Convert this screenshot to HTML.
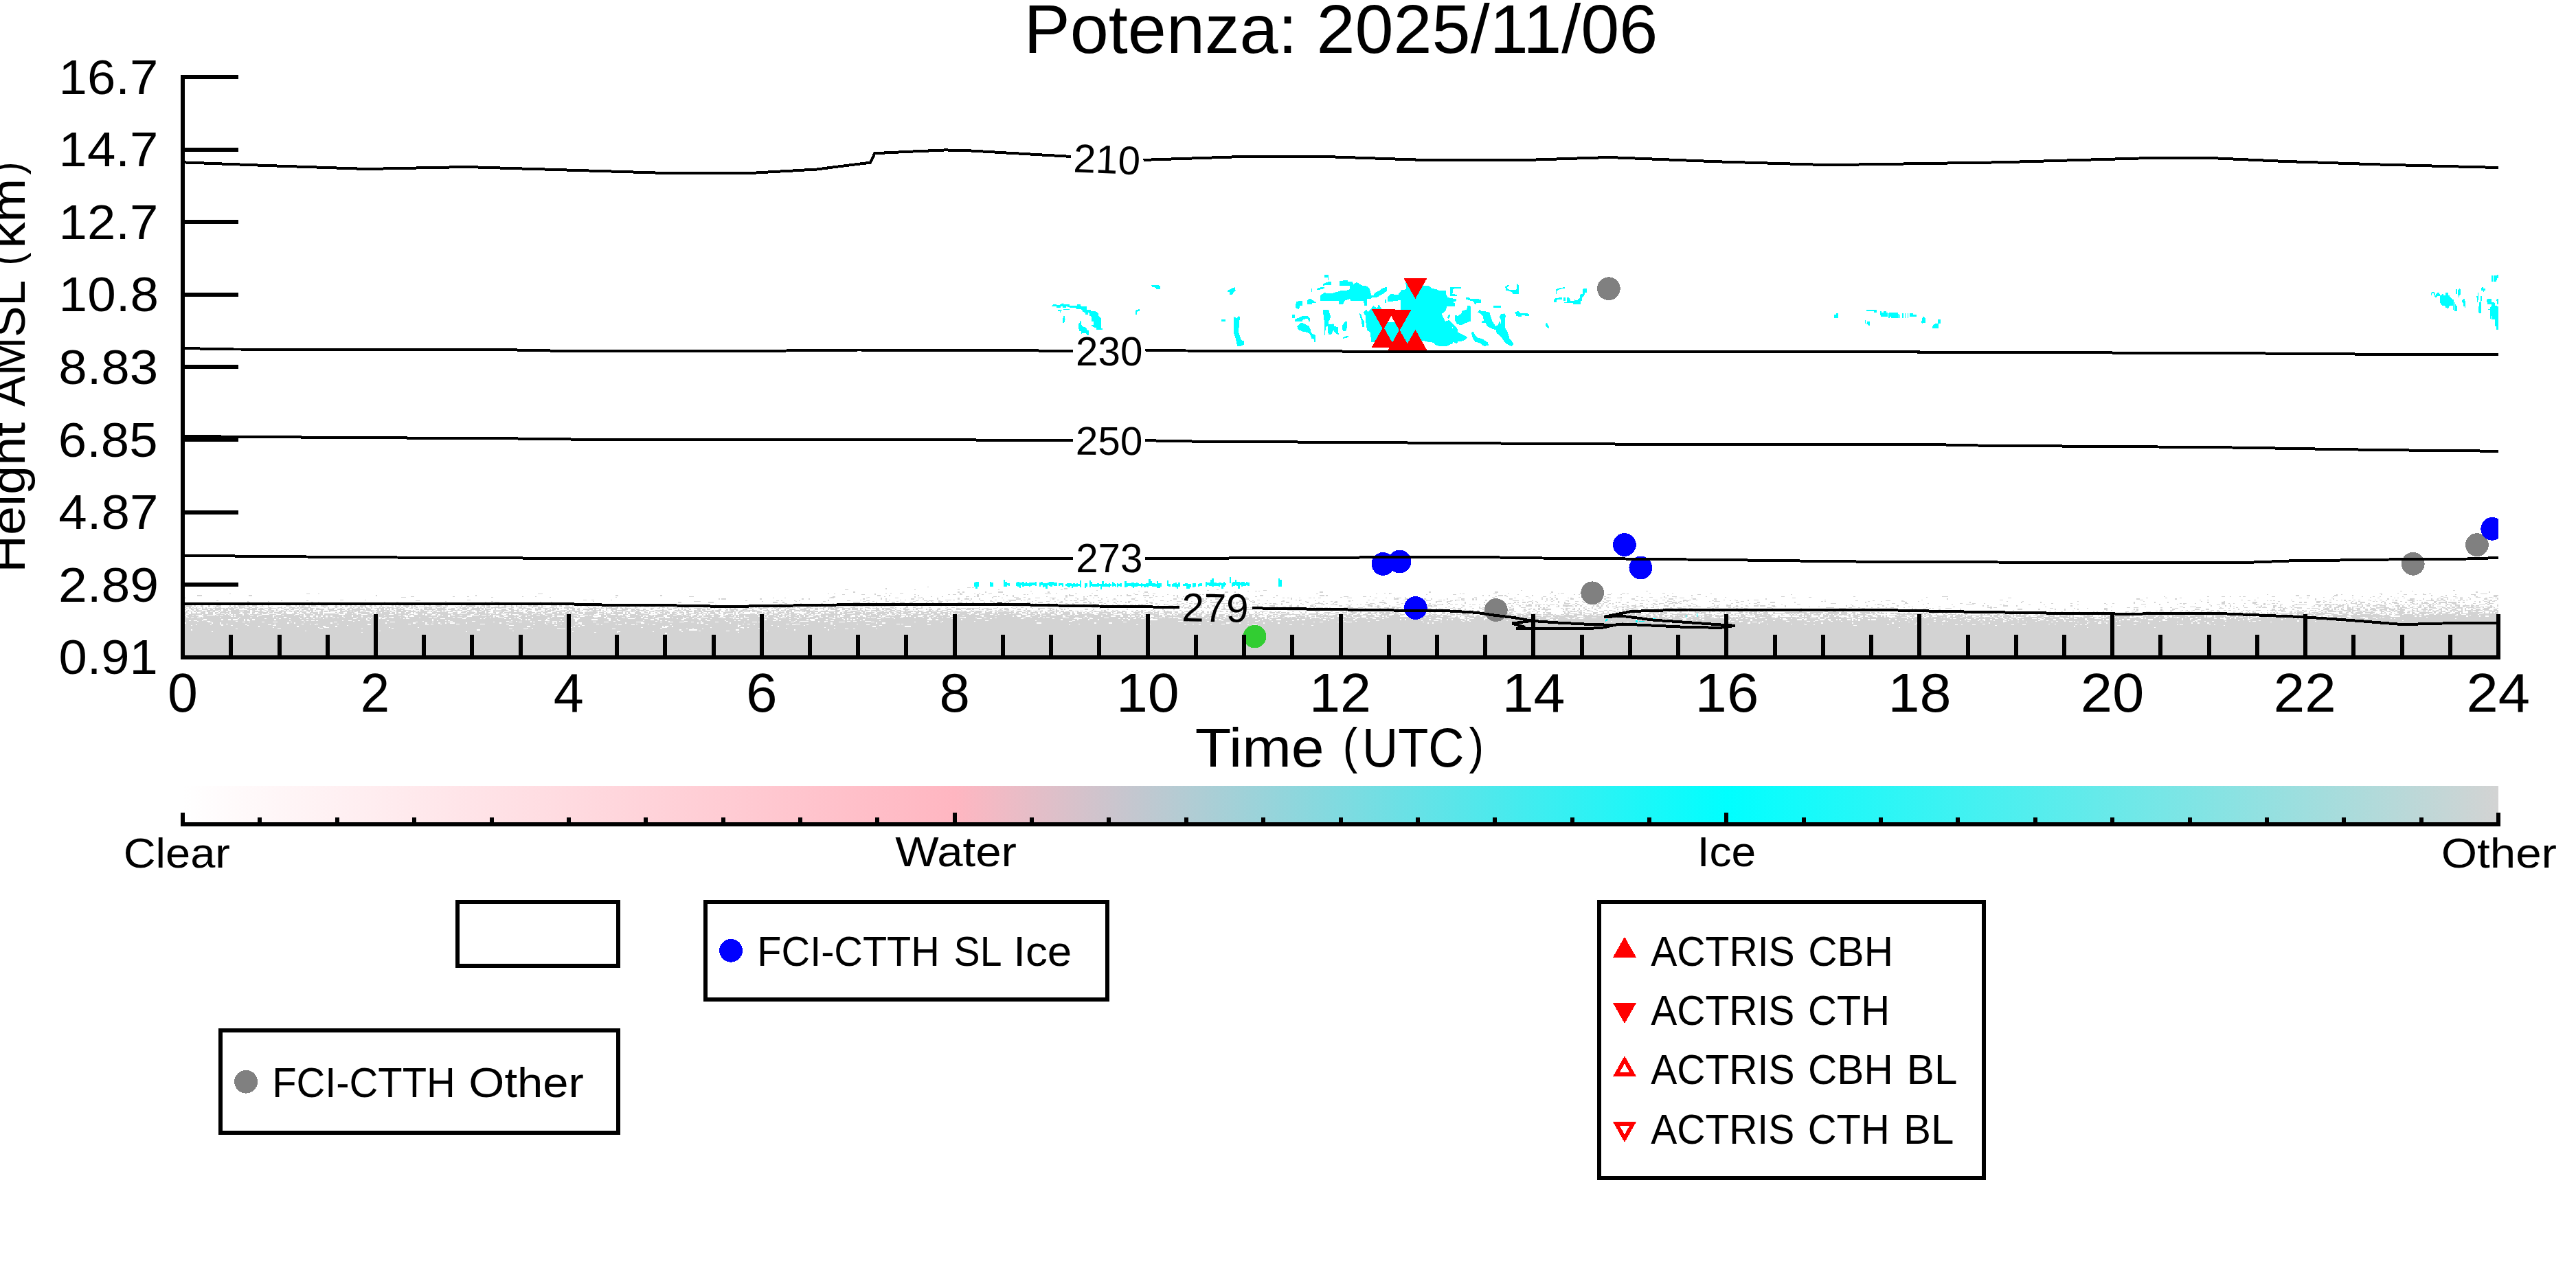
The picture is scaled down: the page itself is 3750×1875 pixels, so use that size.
<!DOCTYPE html>
<html lang="en"><head><meta charset="utf-8"><title>Potenza: 2025/11/06</title>
<style>
html,body{margin:0;padding:0;background:#fff}
body{width:3750px;height:1875px;overflow:hidden;font-family:"Liberation Sans",sans-serif}
svg{display:block;font-family:"Liberation Sans",sans-serif}
text{fill:#000;white-space:pre}
</style></head><body>
<svg width="3750" height="1875" viewBox="0 0 3750 1875">
<defs>
<linearGradient id="cb" x1="0" x2="1" y1="0" y2="0">
<stop offset="0" stop-color="#ffffff"/><stop offset="0.33333" stop-color="#ffb6c1"/>
<stop offset="0.66667" stop-color="#00ffff"/><stop offset="1" stop-color="#d3d3d3"/>
</linearGradient>
<clipPath id="axclip"><rect x="266.0" y="109.0" width="3371.0" height="848.0"/></clipPath>
</defs>
<rect width="3750" height="1875" fill="#fff"/>

<g clip-path="url(#axclip)">
<path d="M266.0 881.0L850.0 881.0L1000.0 883.0L1250.0 882.0L1460.0 881.5L1560.0 884.0L1716.0 886.0L1860.0 888.0L2075.0 890.0L2150.0 889.5L2200.0 888.5L2330.0 888.5L2400.0 889.5L2460.0 890.0L2700.0 891.0L3022.0 895.0L3230.0 894.5L3350.0 893.0L3450.0 890.0L3637.0 888.5L3637.0 957.0L266.0 957.0Z" fill="#d3d3d3" shape-rendering="crispEdges"/>
<g transform="translate(266,850.625) scale(2.34097,1.25)" fill="none" stroke-width="1" shape-rendering="crispEdges">
<path d="M0 25h1m5 0h1m1 0h1m0 0h1m0 0h1m2 0h1m0 0h1m0 0h1m1 0h1m0 0h1m0 0h1m0 0h1m3 0h3m0 0h1m0 0h1m1 0h2m1 0h1m5 0h1m1 0h2m3 0h1m0 0h2m1 0h2m0 0h1m1 0h4m0 0h1m0 0h1m0 0h1m0 0h1m0 0h1m0 0h1m3 0h1m0 0h2m1 0h1m1 0h1m2 0h1m0 0h1m1 0h1m3 0h2m0 0h1m4 0h1m0 0h2m0 0h1m0 0h1m1 0h1m0 0h1m1 0h1m0 0h1m2 0h1m1 0h1m0 0h1m1 0h1m0 0h1m4 0h1m0 0h1m2 0h1m1 0h1m0 0h1m0 0h1m1 0h2m0 0h1m0 0h1m0 0h2m1 0h1m1 0h1m2 0h1m4 0h1m1 0h1m1 0h1m0 0h1m0 0h1m0 0h1m0 0h1m1 0h2m1 0h1m0 0h2m4 0h1m0 0h1m2 0h1m0 0h2m0 0h1m0 0h3m0 0h1m1 0h2m6 0h1m0 0h1m0 0h1m0 0h1m2 0h1m2 0h1m0 0h4m1 0h2m0 0h1m1 0h1m0 0h2m1 0h1m0 0h1m1 0h2m1 0h1m0 0h2m0 0h1m2 0h1m3 0h2m1 0h2m0 0h1m0 0h1m0 0h1m4 0h1m2 0h1m0 0h1m2 0h1m0 0h1m1 0h1m0 0h1m1 0h4m0 0h1m1 0h1m0 0h1m5 0h1m0 0h1m0 0h1m0 0h3m0 0h1m0 0h2m0 0h1m0 0h3m0 0h1m0 0h1m0 0h1m1 0h1m166 0h1m0 0h1m0 0h3m0 0h1m0 0h1m1 0h1m0 0h1m0 0h1m0 0h1m0 0h1m1 0h2m1 0h1m0 0h2m0 0h2m0 0h1m0 0h1m0 0h1m0 0h2m0 0h1m0 0h1m0 0h1m0 0h3m0 0h1m0 0h1m0 0h1m0 0h1m0 0h2m0 0h1m0 0h1m0 0h1m0 0h1m0 0h1m0 0h1m0 0h1m0 0h2m0 0h1m0 0h1m0 0h2m0 0h2m0 0h1m0 0h1m0 0h1m0 0h2m0 0h1m0 0h1m0 0h1m0 0h1m0 0h1m0 0h1m0 0h1m0 0h1m0 0h1m0 0h2m0 0h1m0 0h2M1 26h1m3 0h2m0 0h1m0 0h1m1 0h1m2 0h2m0 0h1m1 0h1m0 0h1m3 0h3m0 0h3m0 0h1m1 0h1m2 0h1m0 0h1m1 0h2m0 0h1m3 0h1m0 0h1m0 0h2m0 0h2m1 0h1m1 0h2m0 0h1m0 0h1m1 0h3m0 0h1m0 0h1m1 0h1m0 0h2m0 0h1m0 0h1m1 0h1m0 0h1m0 0h2m3 0h1m1 0h1m1 0h1m0 0h1m0 0h2m1 0h3m1 0h1m0 0h1m0 0h2m0 0h1m0 0h1m3 0h1m0 0h2m0 0h1m1 0h2m0 0h1m2 0h1m4 0h1m1 0h2m1 0h2m0 0h1m1 0h1m3 0h1m2 0h1m0 0h3m2 0h2m0 0h1m0 0h1m3 0h2m3 0h1m3 0h1m1 0h1m0 0h1m3 0h1m2 0h1m2 0h1m0 0h2m0 0h1m0 0h1m0 0h1m1 0h1m3 0h1m2 0h1m2 0h1m1 0h1m1 0h1m1 0h1m1 0h2m2 0h2m3 0h1m8 0h1m7 0h1m0 0h2m3 0h1m1 0h1m3 0h2m0 0h1m0 0h3m0 0h1m0 0h2m1 0h1m0 0h2m0 0h1m1 0h2m0 0h1m0 0h1m0 0h1m0 0h1m1 0h1m0 0h1m4 0h1m0 0h2m0 0h1m5 0h1m1 0h1m3 0h1m1 0h2m0 0h1m0 0h1m0 0h1m2 0h1m0 0h1m0 0h1m1 0h1m0 0h1m1 0h1m0 0h1m3 0h1m3 0h2m0 0h1m2 0h1m0 0h1m0 0h1m0 0h1m0 0h1m0 0h1m1 0h1m1 0h2m3 0h2m1 0h1m0 0h3m0 0h1m0 0h1m0 0h1m1 0h2m0 0h1m0 0h2m0 0h1m0 0h1m1 0h1m1 0h2m1 0h1m1 0h1m1 0h1m0 0h1m2 0h2m4 0h1m0 0h1m2 0h1m0 0h1m0 0h2m0 0h1m0 0h1m0 0h1m0 0h2m1 0h1m0 0h1m0 0h1m2 0h3m0 0h1m0 0h2m1 0h1m0 0h1m0 0h1m0 0h1m0 0h1m0 0h1m0 0h2m0 0h1m0 0h1m0 0h1m1 0h2m1 0h1m2 0h1m1 0h1m0 0h1m1 0h1m0 0h1m0 0h1m1 0h1m0 0h1m2 0h1m0 0h1m0 0h1m0 0h1m0 0h2m0 0h3m3 0h1m2 0h1m0 0h1m0 0h2m0 0h2m1 0h1m0 0h2m0 0h1m1 0h1m1 0h1m0 0h1m0 0h1m0 0h1m0 0h1m0 0h1m0 0h2m0 0h1m0 0h2m0 0h2m1 0h1m0 0h1m0 0h1m2 0h2m0 0h2m0 0h1m0 0h1m0 0h1m0 0h1m0 0h2m0 0h1m0 0h2m0 0h1m0 0h1m1 0h1m0 0h1m1 0h3m0 0h1m0 0h1m0 0h1m1 0h3m0 0h1m0 0h1m0 0h1m0 0h3m0 0h1m0 0h1m0 0h1m0 0h1m0 0h1m0 0h1m0 0h5m0 0h1m0 0h1m0 0h2m0 0h1m0 0h1m0 0h1m0 0h1m0 0h2m0 0h2m0 0h1m0 0h2m0 0h1m0 0h2m0 0h1m0 0h1m0 0h1m0 0h1m0 0h1m0 0h2m0 0h1m0 0h1m0 0h1m0 0h1m0 0h1m0 0h3m0 0h3M0 27h1m1 0h1m0 0h1m1 0h1m1 0h1m1 0h1m0 0h1m0 0h1m1 0h1m1 0h1m0 0h2m0 0h1m0 0h1m1 0h1m2 0h1m0 0h1m0 0h2m1 0h1m1 0h1m2 0h1m4 0h2m2 0h2m2 0h1m0 0h1m0 0h1m0 0h1m0 0h2m2 0h2m0 0h2m3 0h1m1 0h2m4 0h1m1 0h1m7 0h1m0 0h1m0 0h1m0 0h1m0 0h1m0 0h2m0 0h1m1 0h1m1 0h3m0 0h1m1 0h1m0 0h2m1 0h2m0 0h1m0 0h1m1 0h1m1 0h1m0 0h1m1 0h1m1 0h1m2 0h2m1 0h1m0 0h1m0 0h2m1 0h1m2 0h1m4 0h1m0 0h1m2 0h1m1 0h1m0 0h1m1 0h2m1 0h1m0 0h1m1 0h1m0 0h1m0 0h1m0 0h1m5 0h2m1 0h2m1 0h1m2 0h3m0 0h3m1 0h1m1 0h1m2 0h1m1 0h1m0 0h1m1 0h1m0 0h1m1 0h1m1 0h1m1 0h1m2 0h1m9 0h3m2 0h1m0 0h2m2 0h1m1 0h2m0 0h2m1 0h3m3 0h1m0 0h1m0 0h1m0 0h1m3 0h1m1 0h1m0 0h1m0 0h2m6 0h2m0 0h2m0 0h1m0 0h1m0 0h1m0 0h1m0 0h1m1 0h2m2 0h2m0 0h1m1 0h1m0 0h1m1 0h1m2 0h1m0 0h1m2 0h1m1 0h2m1 0h1m0 0h1m0 0h2m0 0h1m2 0h1m0 0h1m0 0h2m0 0h4m0 0h2m0 0h1m0 0h1m0 0h1m1 0h1m2 0h1m1 0h1m0 0h1m0 0h1m0 0h1m2 0h1m0 0h1m1 0h1m3 0h1m0 0h1m0 0h1m0 0h3m0 0h3m3 0h1m0 0h1m3 0h1m0 0h1m0 0h1m1 0h1m1 0h2m1 0h1m0 0h2m3 0h1m1 0h1m1 0h1m0 0h1m2 0h1m1 0h1m1 0h1m0 0h1m4 0h2m3 0h1m4 0h1m2 0h1m2 0h1m2 0h1m0 0h1m0 0h1m0 0h1m3 0h1m0 0h3m0 0h2m0 0h1m2 0h1m3 0h1m6 0h1m0 0h1m0 0h1m0 0h1m3 0h2m0 0h2m0 0h1m0 0h1m3 0h1m0 0h1m0 0h2m1 0h2m1 0h1m0 0h1m0 0h1m0 0h2m2 0h1m1 0h1m0 0h1m0 0h1m0 0h1m0 0h1m2 0h2m0 0h1m2 0h1m0 0h1m0 0h1m1 0h2m0 0h2m1 0h2m0 0h1m0 0h1m0 0h2m0 0h2m0 0h2m1 0h2m2 0h1m0 0h2m0 0h1m0 0h2m0 0h1m0 0h2m0 0h1m0 0h2m0 0h1m0 0h2m1 0h1m0 0h1m0 0h3m0 0h1m0 0h1m0 0h1m0 0h1m0 0h1m1 0h1m0 0h1m0 0h1m0 0h2m0 0h2m0 0h1m1 0h1m0 0h1m1 0h1m0 0h1m2 0h1m0 0h1m0 0h2m1 0h1m0 0h1m0 0h1m0 0h1m0 0h1m0 0h3m0 0h1m0 0h1m0 0h1m0 0h2m0 0h1m0 0h3m0 0h1m0 0h1m0 0h1m0 0h1m0 0h3m0 0h1m0 0h3m0 0h1m0 0h1m0 0h1m0 0h1m0 0h1m0 0h1m0 0h1m0 0h1m0 0h1M1 28h1m1 0h1m2 0h1m2 0h1m1 0h1m1 0h1m1 0h1m2 0h1m7 0h1m6 0h1m0 0h1m2 0h1m4 0h1m3 0h1m0 0h1m2 0h1m2 0h1m4 0h1m1 0h1m2 0h1m0 0h1m0 0h1m1 0h1m4 0h1m1 0h1m3 0h1m3 0h1m2 0h1m0 0h1m0 0h1m0 0h2m1 0h2m2 0h1m0 0h1m0 0h1m1 0h1m0 0h1m0 0h1m0 0h1m3 0h2m2 0h1m0 0h2m0 0h1m2 0h1m1 0h1m6 0h1m3 0h1m4 0h1m1 0h1m1 0h1m0 0h1m0 0h1m2 0h1m1 0h1m0 0h1m0 0h1m0 0h2m2 0h1m2 0h2m6 0h2m0 0h1m0 0h1m2 0h2m0 0h1m6 0h1m0 0h1m7 0h1m1 0h1m0 0h1m0 0h1m1 0h1m1 0h1m2 0h1m0 0h1m0 0h2m3 0h1m0 0h1m0 0h1m0 0h1m7 0h1m0 0h1m0 0h1m1 0h1m2 0h1m4 0h1m0 0h1m4 0h1m1 0h1m3 0h1m3 0h1m0 0h1m1 0h1m0 0h1m0 0h1m0 0h1m0 0h2m6 0h1m2 0h1m8 0h1m2 0h1m4 0h1m0 0h1m1 0h1m0 0h4m0 0h1m0 0h1m0 0h2m2 0h1m0 0h1m2 0h1m0 0h1m0 0h2m1 0h1m0 0h1m0 0h1m2 0h1m0 0h1m0 0h1m1 0h2m0 0h1m1 0h2m0 0h1m5 0h3m1 0h1m1 0h1m1 0h2m0 0h3m0 0h1m1 0h2m1 0h2m1 0h1m0 0h1m0 0h1m0 0h1m0 0h1m0 0h1m4 0h1m0 0h1m0 0h1m0 0h1m5 0h1m0 0h2m1 0h1m1 0h1m2 0h1m0 0h2m2 0h1m0 0h1m0 0h2m0 0h1m0 0h1m1 0h2m3 0h1m2 0h1m2 0h1m3 0h1m0 0h1m4 0h1m2 0h2m5 0h1m4 0h1m2 0h1m0 0h1m0 0h1m2 0h1m4 0h1m0 0h1m5 0h1m2 0h1m0 0h2m1 0h1m2 0h1m0 0h1m0 0h1m0 0h1m0 0h1m0 0h1m4 0h1m0 0h3m0 0h1m0 0h1m0 0h1m0 0h1m0 0h1m0 0h1m1 0h2m0 0h1m1 0h1m0 0h1m0 0h1m0 0h2m0 0h1m2 0h1m3 0h1m7 0h1m0 0h1m0 0h1m3 0h1m0 0h1m0 0h1m2 0h1m0 0h1m0 0h1m1 0h1m2 0h1m0 0h1m0 0h1m2 0h2m0 0h1m0 0h1m0 0h1m0 0h1m1 0h2m0 0h1m1 0h1m0 0h1m0 0h1m4 0h1m0 0h1m3 0h1m0 0h2m0 0h1m1 0h1m0 0h1m0 0h1m0 0h1m1 0h2m0 0h1m0 0h1m0 0h1m0 0h1m0 0h1m0 0h1m0 0h1m0 0h3m0 0h1m0 0h1m0 0h1m0 0h1m0 0h1m0 0h1m0 0h1m1 0h1m0 0h1m0 0h1m0 0h1m0 0h1m0 0h1m0 0h2m0 0h1m0 0h3m0 0h1m0 0h1m0 0h2m0 0h1m0 0h2m0 0h1m0 0h1m0 0h1m0 0h2m0 0h1m0 0h1m0 0h1m0 0h1m0 0h2m0 0h1m0 0h1m0 0h1m0 0h3M2 29h2m0 0h1m2 0h1m2 0h2m4 0h1m2 0h1m4 0h1m3 0h1m3 0h1m2 0h2m0 0h2m0 0h1m6 0h1m4 0h1m0 0h1m2 0h1m0 0h2m1 0h2m0 0h2m3 0h1m2 0h3m1 0h1m4 0h1m2 0h1m0 0h1m5 0h1m0 0h1m4 0h2m5 0h1m2 0h1m8 0h1m3 0h2m0 0h1m0 0h1m1 0h1m2 0h1m1 0h1m1 0h1m1 0h1m0 0h1m5 0h1m0 0h1m0 0h1m0 0h1m0 0h3m2 0h1m1 0h1m7 0h1m6 0h1m4 0h1m0 0h1m1 0h2m3 0h2m6 0h1m1 0h1m4 0h1m0 0h1m1 0h1m0 0h1m0 0h1m3 0h1m0 0h1m3 0h2m1 0h1m0 0h1m1 0h1m0 0h1m3 0h2m4 0h2m2 0h1m1 0h1m2 0h1m1 0h1m0 0h1m0 0h1m0 0h2m1 0h1m0 0h1m2 0h1m2 0h1m0 0h1m6 0h1m1 0h2m1 0h2m0 0h1m1 0h2m4 0h1m0 0h2m4 0h1m0 0h1m2 0h1m2 0h2m2 0h1m0 0h1m0 0h1m1 0h1m0 0h2m0 0h1m0 0h1m0 0h1m1 0h3m2 0h1m0 0h3m1 0h1m1 0h1m1 0h2m1 0h1m0 0h1m0 0h1m0 0h1m2 0h1m2 0h1m2 0h3m0 0h1m0 0h1m2 0h1m0 0h1m0 0h1m1 0h1m5 0h1m0 0h2m3 0h1m0 0h2m1 0h1m0 0h2m0 0h1m1 0h1m0 0h2m1 0h1m0 0h1m0 0h1m0 0h2m2 0h1m0 0h1m0 0h1m1 0h2m4 0h1m0 0h2m4 0h1m1 0h1m0 0h2m2 0h2m0 0h1m1 0h2m1 0h1m4 0h1m0 0h1m0 0h1m2 0h2m1 0h1m4 0h1m1 0h1m0 0h1m1 0h2m0 0h1m0 0h1m0 0h2m2 0h1m0 0h1m1 0h1m4 0h2m1 0h1m0 0h3m4 0h1m0 0h1m1 0h1m1 0h4m0 0h1m1 0h1m2 0h1m0 0h1m0 0h1m2 0h2m0 0h1m0 0h1m3 0h3m3 0h2m0 0h1m3 0h1m1 0h1m0 0h2m1 0h1m1 0h1m0 0h1m3 0h1m0 0h2m0 0h1m0 0h1m1 0h1m0 0h1m3 0h3m0 0h1m0 0h1m2 0h1m0 0h1m0 0h1m1 0h1m0 0h1m0 0h2m0 0h1m0 0h1m0 0h1m1 0h1m0 0h2m0 0h1m0 0h2m1 0h1m1 0h1m1 0h1m0 0h1m1 0h1m1 0h1m0 0h1m0 0h2m0 0h4m0 0h1m0 0h1m0 0h1m0 0h1m2 0h2m0 0h1m1 0h1m0 0h1m0 0h2m0 0h1m0 0h3m1 0h1m0 0h1m0 0h1m0 0h1m0 0h1m0 0h1m0 0h2m0 0h1m0 0h1m0 0h1m1 0h3m0 0h1m0 0h2m0 0h1m0 0h1m0 0h2m0 0h1m0 0h1m0 0h1m0 0h1m0 0h1m1 0h1m0 0h1m0 0h3m1 0h1m0 0h1m0 0h1m0 0h1m0 0h1m0 0h1m1 0h1m0 0h1m0 0h1m0 0h1m0 0h4m0 0h1m0 0h1m0 0h1m0 0h1m0 0h4m0 0h1m0 0h1m0 0h1m0 0h1m0 0h1m0 0h1m0 0h3m0 0h1m0 0h2m0 0h1M1 30h1m0 0h1m1 0h2m1 0h1m4 0h1m0 0h1m0 0h1m7 0h1m1 0h1m3 0h1m0 0h1m10 0h1m1 0h1m2 0h1m0 0h1m0 0h1m1 0h2m1 0h1m4 0h1m1 0h1m0 0h1m2 0h1m1 0h1m1 0h1m0 0h2m2 0h1m0 0h1m1 0h1m0 0h1m4 0h1m1 0h1m0 0h2m1 0h2m0 0h1m0 0h1m5 0h1m0 0h1m1 0h1m0 0h1m1 0h1m7 0h2m7 0h1m2 0h1m6 0h1m0 0h1m1 0h1m3 0h1m5 0h1m1 0h4m2 0h2m1 0h2m1 0h1m4 0h1m1 0h1m0 0h2m0 0h1m7 0h1m0 0h2m3 0h1m0 0h1m4 0h1m3 0h3m9 0h2m5 0h1m1 0h1m0 0h1m2 0h1m0 0h1m0 0h1m0 0h1m2 0h1m0 0h1m0 0h1m0 0h1m1 0h1m4 0h2m0 0h1m0 0h1m4 0h1m4 0h2m1 0h1m1 0h2m2 0h1m6 0h1m1 0h1m1 0h2m2 0h1m7 0h3m3 0h1m4 0h1m2 0h1m0 0h1m0 0h1m0 0h1m7 0h1m0 0h1m0 0h1m0 0h1m0 0h1m4 0h1m4 0h1m0 0h1m0 0h1m4 0h1m2 0h2m0 0h2m1 0h1m4 0h1m0 0h1m2 0h1m3 0h1m1 0h1m0 0h1m10 0h1m0 0h1m0 0h2m4 0h1m5 0h1m3 0h1m3 0h1m10 0h1m0 0h1m1 0h1m0 0h1m0 0h1m0 0h2m0 0h2m1 0h1m0 0h2m0 0h1m0 0h1m3 0h3m2 0h1m0 0h2m0 0h1m0 0h1m4 0h1m3 0h1m6 0h2m2 0h2m3 0h1m3 0h2m2 0h3m0 0h1m0 0h2m1 0h2m0 0h1m0 0h1m0 0h1m0 0h1m1 0h1m1 0h1m2 0h1m0 0h1m4 0h2m1 0h1m0 0h2m0 0h1m0 0h1m1 0h1m0 0h2m0 0h1m0 0h1m1 0h1m0 0h1m0 0h1m0 0h1m0 0h2m0 0h3m1 0h2m0 0h1m0 0h1m1 0h1m3 0h1m0 0h1m2 0h1m0 0h1m1 0h1m0 0h1m0 0h1m0 0h1m0 0h1m0 0h1m1 0h1m2 0h1m0 0h2m0 0h2m0 0h1m0 0h1m1 0h2m0 0h1m3 0h1m0 0h1m2 0h1m0 0h1m0 0h1m0 0h1m0 0h2m2 0h2m0 0h1m0 0h2m0 0h1m0 0h2m0 0h1m0 0h2m0 0h1m1 0h2m0 0h1m0 0h2m1 0h1m1 0h1m0 0h3m1 0h1m2 0h4m0 0h1m0 0h1m0 0h3m0 0h2m1 0h2m1 0h1m1 0h1m0 0h1m0 0h1m1 0h1m1 0h1m0 0h1m0 0h3m1 0h1m0 0h1m0 0h1m0 0h2m0 0h1m0 0h1m0 0h1m0 0h1m1 0h2m0 0h1m0 0h1m0 0h1m1 0h2m1 0h1m0 0h1m0 0h1m1 0h1m0 0h1m0 0h3m0 0h1m1 0h2m0 0h1m0 0h1m0 0h1m0 0h1m0 0h1m0 0h2m0 0h1m0 0h3m1 0h1m0 0h1m0 0h1m0 0h1m0 0h2m0 0h1m0 0h1m0 0h1m0 0h2m0 0h1m0 0h2m0 0h1m0 0h1m0 0h1m0 0h1m0 0h1m0 0h2m0 0h2m0 0h2m0 0h1m0 0h1m0 0h2m0 0h1m0 0h1m0 0h1M5 31h1m0 0h1m3 0h1m0 0h2m5 0h1m1 0h2m2 0h1m4 0h1m5 0h2m0 0h1m4 0h2m3 0h1m1 0h1m1 0h1m1 0h1m0 0h1m7 0h1m3 0h1m3 0h1m3 0h1m0 0h2m2 0h1m1 0h1m2 0h2m10 0h1m0 0h1m3 0h1m2 0h1m1 0h1m4 0h3m0 0h1m3 0h1m7 0h1m1 0h1m10 0h2m11 0h1m4 0h1m0 0h1m3 0h1m2 0h1m2 0h1m1 0h1m0 0h1m0 0h1m1 0h1m4 0h1m1 0h1m0 0h1m5 0h1m3 0h1m1 0h3m0 0h1m5 0h1m2 0h1m3 0h1m1 0h1m4 0h1m0 0h1m0 0h1m9 0h1m5 0h1m0 0h1m1 0h1m2 0h1m6 0h2m1 0h1m1 0h1m0 0h1m2 0h1m0 0h1m1 0h1m0 0h2m0 0h1m1 0h1m0 0h1m1 0h1m1 0h1m4 0h1m1 0h1m2 0h1m3 0h1m4 0h1m0 0h1m0 0h1m3 0h2m2 0h1m0 0h1m2 0h1m0 0h2m1 0h1m1 0h2m0 0h2m4 0h1m1 0h2m2 0h1m7 0h1m2 0h1m0 0h1m0 0h1m0 0h1m0 0h3m2 0h1m5 0h1m0 0h1m0 0h1m1 0h1m2 0h1m2 0h1m0 0h1m0 0h1m3 0h1m2 0h2m1 0h1m1 0h2m2 0h1m1 0h2m2 0h1m0 0h1m0 0h1m6 0h1m2 0h1m0 0h1m4 0h1m0 0h1m0 0h3m3 0h1m1 0h1m7 0h2m0 0h1m4 0h3m4 0h1m0 0h1m1 0h2m5 0h1m0 0h1m2 0h1m0 0h1m1 0h1m5 0h1m4 0h1m0 0h1m3 0h2m0 0h1m1 0h1m1 0h2m0 0h3m0 0h1m0 0h1m0 0h1m2 0h4m1 0h1m0 0h1m0 0h1m0 0h1m7 0h1m1 0h1m0 0h1m2 0h1m0 0h1m0 0h1m0 0h1m0 0h1m0 0h1m0 0h1m1 0h1m0 0h1m2 0h1m0 0h1m3 0h2m1 0h1m0 0h1m2 0h1m5 0h1m0 0h3m0 0h1m5 0h1m0 0h1m2 0h3m2 0h2m2 0h1m2 0h2m0 0h1m0 0h2m3 0h2m0 0h1m0 0h1m2 0h1m1 0h1m0 0h1m0 0h1m1 0h1m0 0h3m2 0h2m0 0h2m1 0h2m1 0h1m0 0h1m2 0h1m0 0h7m2 0h1m2 0h1m1 0h1m0 0h1m0 0h1m1 0h1m0 0h1m0 0h1m0 0h3m0 0h1m1 0h1m0 0h1m0 0h1m0 0h1m2 0h1m0 0h2m1 0h1m0 0h1m0 0h1m0 0h2m0 0h1m5 0h1m0 0h2m1 0h1m0 0h2m0 0h1m1 0h4m0 0h1m0 0h1m0 0h2m0 0h1m0 0h1m0 0h1m1 0h1m0 0h3m0 0h1m0 0h1m2 0h1m0 0h2m0 0h1m0 0h1m0 0h1m0 0h2m0 0h1m0 0h2m0 0h1m0 0h2m0 0h1m0 0h1m0 0h1m0 0h1m0 0h1m0 0h3m0 0h2m0 0h1m0 0h1m0 0h2m0 0h1m0 0h2m0 0h2m0 0h1m0 0h1m0 0h1m0 0h1m0 0h1m0 0h1m0 0h1m0 0h1m0 0h1m0 0h2m0 0h1m0 0h1m0 0h1m0 0h1m1 0h2m0 0h1m0 0h1m0 0h2m0 0h1m0 0h1m0 0h1m0 0h1m0 0h1m0 0h1m0 0h1m0 0h1m0 0h1m0 0h1m0 0h1m0 0h1m0 0h2m63 0h1m0 0h1m0 0h3m0 0h2m1 0h1m0 0h1m0 0h1m0 0h1m0 0h2m1 0h2m0 0h2m0 0h1m1 0h1m0 0h1m0 0h1m0 0h1m0 0h1m1 0h1m0 0h1m0 0h1m0 0h1m0 0h1m0 0h1m1 0h1m0 0h1m0 0h1m0 0h1m0 0h3m0 0h1m0 0h1m0 0h1m0 0h1m0 0h1m0 0h2m0 0h1m0 0h1m0 0h1m1 0h1m0 0h1m3 0h1m1 0h1m1 0h2m0 0h3m3 0h3m0 0h1m0 0h1m0 0h2m0 0h3m0 0h1m0 0h2m2 0h1m1 0h1m0 0h1m0 0h1m0 0h2m0 0h1m0 0h1m1 0h1m0 0h1m0 0h1m0 0h1m0 0h1m0 0h2m485 0h4m0 0h1m0 0h2m1 0h1m3 0h1m1 0h1m0 0h1m2 0h1m0 0h1m0 0h1m4 0h1m1 0h1m2 0h1m0 0h1m3 0h1m0 0h1m0 0h1m0 0h1m0 0h1m0 0h1m0 0h1m0 0h1M0 32h2m1 0h2m1 0h1m1 0h1m5 0h1m2 0h1m2 0h2m1 0h1m3 0h1m14 0h1m7 0h1m0 0h1m5 0h2m0 0h1m4 0h1m0 0h1m2 0h1m3 0h1m4 0h1m1 0h1m1 0h1m0 0h2m0 0h1m2 0h1m2 0h1m1 0h2m0 0h1m0 0h2m0 0h1m10 0h1m1 0h1m3 0h1m0 0h2m2 0h1m0 0h1m4 0h1m4 0h1m0 0h1m0 0h1m6 0h1m5 0h1m1 0h1m5 0h1m1 0h1m2 0h1m0 0h1m1 0h1m1 0h1m4 0h1m0 0h1m1 0h2m0 0h1m3 0h1m2 0h1m0 0h1m0 0h1m1 0h2m2 0h1m2 0h1m0 0h1m7 0h1m0 0h2m3 0h1m0 0h1m1 0h2m0 0h1m0 0h1m1 0h1m2 0h2m0 0h3m0 0h1m1 0h1m4 0h2m0 0h1m6 0h1m3 0h1m4 0h1m0 0h2m0 0h1m1 0h1m5 0h3m2 0h1m0 0h1m0 0h1m0 0h1m3 0h1m0 0h2m1 0h1m3 0h1m2 0h1m2 0h1m0 0h1m0 0h1m1 0h1m0 0h1m3 0h1m0 0h1m2 0h1m4 0h3m1 0h1m1 0h1m2 0h1m0 0h1m4 0h1m5 0h1m6 0h1m3 0h1m1 0h1m7 0h1m0 0h1m2 0h1m4 0h1m6 0h3m0 0h1m2 0h1m1 0h1m1 0h1m1 0h1m1 0h1m4 0h1m1 0h2m1 0h1m2 0h1m7 0h1m12 0h2m0 0h1m2 0h1m0 0h1m6 0h1m2 0h4m1 0h1m0 0h1m1 0h1m3 0h1m1 0h1m2 0h1m0 0h1m2 0h1m8 0h1m5 0h2m11 0h1m0 0h1m13 0h1m3 0h1m4 0h1m0 0h1m1 0h1m2 0h2m9 0h1m2 0h2m3 0h2m3 0h3m1 0h2m2 0h1m1 0h1m1 0h1m0 0h1m1 0h1m2 0h1m2 0h1m2 0h1m0 0h1m1 0h1m0 0h1m1 0h1m0 0h1m0 0h2m1 0h1m0 0h1m1 0h1m0 0h1m5 0h1m2 0h2m3 0h1m2 0h1m3 0h1m0 0h2m1 0h1m1 0h1m3 0h1m0 0h2m2 0h1m2 0h1m1 0h1m0 0h1m0 0h1m5 0h2m2 0h1m0 0h1m1 0h1m3 0h1m1 0h2m0 0h1m1 0h2m1 0h1m0 0h1m1 0h1m1 0h1m0 0h1m1 0h1m0 0h1m2 0h1m0 0h1m1 0h1m2 0h1m4 0h1m0 0h2m0 0h1m1 0h1m0 0h1m0 0h2m1 0h2m3 0h1m0 0h1m0 0h1m1 0h1m0 0h1m1 0h1m2 0h2m0 0h2m0 0h1m0 0h1m0 0h1m1 0h1m0 0h1m0 0h1m1 0h2m0 0h1m1 0h2m0 0h1m0 0h1m0 0h1m3 0h2m0 0h1m0 0h3m0 0h1m1 0h1m0 0h1m0 0h1m0 0h1m0 0h1m2 0h1m1 0h2m2 0h1m0 0h1m0 0h2m1 0h1m0 0h2m0 0h1m0 0h2m0 0h1m0 0h1m0 0h1m0 0h1m0 0h1m0 0h1m0 0h1m0 0h2m0 0h1m0 0h1m0 0h1m0 0h1m0 0h1m0 0h2m0 0h1m1 0h1m1 0h2m0 0h1m0 0h1m0 0h1m0 0h1m0 0h1m0 0h1m0 0h2m0 0h1m0 0h2m0 0h1m1 0h1m0 0h2m0 0h1m0 0h1m0 0h2m1 0h1m0 0h1m1 0h1m0 0h1m1 0h1m0 0h2m0 0h1m0 0h1m0 0h3m0 0h2m0 0h1m0 0h1m1 0h1m2 0h2m0 0h1m0 0h1m2 0h2m0 0h1m1 0h1m2 0h1m0 0h1m0 0h1m0 0h1m1 0h1m0 0h1m1 0h1m1 0h1m1 0h1m0 0h1m0 0h1m0 0h1m0 0h1m1 0h1m0 0h1m1 0h1m1 0h1m0 0h1m2 0h1m0 0h1m0 0h1m1 0h1m0 0h1m0 0h1m0 0h1m0 0h1m0 0h2m0 0h1m0 0h2m2 0h1m1 0h1m4 0h1m2 0h1m0 0h1m0 0h1m0 0h1m0 0h1m0 0h1m1 0h1m0 0h3m3 0h1m0 0h1m1 0h2m0 0h1m1 0h2m1 0h1m3 0h1m0 0h1m0 0h1m0 0h1m3 0h1m1 0h1m0 0h1m0 0h1m0 0h4m0 0h1m0 0h1m0 0h1m1 0h1m1 0h3m0 0h1m1 0h1m0 0h1m0 0h1m1 0h1m0 0h1m1 0h2m0 0h1m0 0h2m0 0h3m1 0h1m0 0h1m1 0h1m0 0h1m0 0h1m0 0h2m1 0h1m2 0h1m0 0h1m1 0h1m2 0h2m0 0h2m0 0h1m0 0h2m0 0h1m3 0h1m0 0h4m4 0h2m2 0h1m1 0h1m0 0h1m0 0h1m0 0h1m0 0h1m1 0h1m0 0h1m1 0h1m1 0h2m1 0h1m352 0h1m2 0h1m2 0h1m0 0h2m1 0h2m0 0h2m0 0h1m2 0h2m2 0h2m1 0h1m4 0h3m1 0h1m1 0h1m0 0h1m2 0h2m2 0h1m1 0h1m0 0h1m3 0h2m3 0h1m0 0h1m0 0h1m1 0h1m1 0h2m3 0h3m3 0h2m1 0h1m0 0h2m2 0h1m0 0h1m4 0h1M0 33h1m2 0h1m0 0h1m1 0h2m1 0h2m3 0h1m0 0h1m3 0h1m2 0h1m6 0h1m6 0h1m5 0h1m2 0h1m0 0h1m6 0h1m2 0h1m5 0h1m1 0h1m0 0h3m0 0h1m2 0h1m1 0h1m3 0h1m0 0h1m5 0h1m2 0h2m0 0h4m0 0h2m1 0h1m3 0h1m0 0h1m5 0h2m7 0h1m0 0h1m1 0h1m3 0h1m5 0h1m2 0h1m1 0h1m0 0h1m2 0h1m3 0h1m1 0h1m7 0h1m0 0h1m0 0h1m10 0h1m0 0h1m0 0h1m3 0h1m0 0h1m3 0h1m5 0h1m5 0h1m1 0h2m0 0h1m2 0h1m0 0h1m2 0h1m12 0h1m0 0h1m5 0h1m3 0h1m3 0h1m0 0h2m3 0h1m2 0h2m2 0h1m1 0h2m1 0h1m3 0h1m8 0h1m3 0h1m1 0h1m0 0h1m1 0h1m6 0h1m1 0h1m1 0h2m0 0h1m4 0h2m2 0h1m1 0h2m0 0h1m1 0h2m2 0h1m3 0h1m3 0h2m3 0h1m2 0h1m0 0h2m3 0h1m2 0h2m1 0h1m3 0h2m1 0h2m6 0h1m1 0h1m2 0h1m1 0h1m0 0h1m0 0h1m0 0h1m0 0h4m3 0h1m1 0h1m3 0h1m1 0h2m4 0h1m2 0h1m2 0h2m0 0h3m0 0h1m0 0h1m0 0h1m2 0h1m2 0h2m2 0h1m0 0h1m1 0h2m3 0h1m1 0h1m0 0h1m1 0h1m6 0h1m4 0h1m1 0h1m5 0h1m0 0h1m7 0h1m2 0h2m3 0h1m5 0h3m2 0h1m5 0h1m4 0h1m0 0h1m5 0h1m1 0h1m11 0h2m5 0h1m0 0h1m4 0h1m0 0h1m1 0h1m10 0h1m2 0h1m0 0h1m2 0h1m1 0h1m5 0h1m1 0h2m2 0h1m3 0h1m1 0h1m1 0h1m5 0h1m1 0h1m0 0h1m3 0h1m1 0h1m2 0h1m1 0h1m0 0h1m0 0h1m0 0h1m7 0h1m1 0h1m0 0h1m4 0h1m1 0h2m0 0h2m4 0h1m1 0h1m5 0h1m3 0h2m0 0h1m5 0h1m0 0h1m2 0h1m0 0h1m2 0h1m0 0h1m0 0h1m0 0h1m0 0h1m1 0h1m1 0h1m0 0h1m2 0h2m1 0h1m1 0h1m0 0h2m0 0h2m0 0h1m0 0h1m0 0h1m0 0h1m0 0h2m2 0h1m0 0h2m1 0h1m1 0h1m0 0h1m0 0h1m1 0h1m0 0h1m0 0h2m1 0h1m1 0h1m1 0h2m0 0h1m0 0h1m3 0h1m2 0h1m3 0h1m1 0h3m0 0h2m0 0h2m1 0h1m0 0h1m1 0h1m0 0h3m0 0h2m1 0h1m0 0h1m0 0h2m4 0h1m0 0h1m0 0h1m2 0h1m0 0h1m3 0h1m0 0h1m4 0h1m0 0h1m1 0h2m0 0h1m0 0h1m2 0h1m0 0h1m2 0h1m3 0h1m3 0h1m1 0h1m2 0h2m0 0h2m0 0h2m0 0h1m0 0h1m1 0h1m2 0h1m2 0h2m0 0h2m1 0h1m0 0h1m1 0h1m0 0h1m0 0h2m2 0h1m0 0h1m0 0h1m2 0h1m0 0h1m0 0h1m0 0h1m0 0h1m2 0h1m1 0h1m4 0h1m1 0h1m1 0h5m0 0h1m0 0h2m0 0h2m0 0h1m0 0h2m3 0h1m2 0h2m0 0h2m0 0h2m0 0h1m0 0h2m2 0h1m0 0h1m0 0h1m0 0h1m1 0h2m0 0h1m1 0h1m3 0h1m0 0h1m0 0h1m0 0h3m0 0h1m0 0h1m1 0h1m2 0h1m0 0h3m0 0h1m2 0h1m1 0h4m0 0h1m3 0h1m0 0h2m1 0h1m0 0h1m1 0h1m0 0h2m0 0h1m2 0h1m2 0h1m0 0h1m0 0h1m1 0h1m2 0h1m0 0h1m2 0h1m0 0h2m0 0h1m0 0h1m6 0h1m4 0h2m0 0h1m0 0h1m0 0h1m0 0h1m0 0h2m1 0h1m0 0h2m0 0h2m0 0h2m0 0h1m3 0h1m3 0h2m1 0h1m0 0h1m0 0h4m1 0h1m1 0h1m3 0h5m2 0h1m0 0h1m1 0h1m2 0h1m2 0h1m1 0h1m0 0h1m3 0h3m1 0h1m0 0h1m0 0h1m0 0h2m0 0h1m14 0h1m0 0h1m8 0h3m7 0h1m4 0h1m0 0h1m0 0h1m2 0h1m0 0h1m0 0h1m6 0h1m2 0h1m0 0h1m1 0h1m2 0h1m1 0h1m0 0h1m6 0h1m267 0h2m0 0h2m0 0h1m2 0h2m2 0h1m2 0h1m5 0h1m6 0h1m0 0h2m0 0h1m1 0h1m1 0h1m0 0h2m1 0h2m0 0h1m5 0h1m2 0h1m2 0h2m0 0h1m8 0h1m1 0h2m2 0h2m3 0h1m0 0h1m0 0h1m3 0h1m1 0h3m9 0h1m1 0h1m0 0h1m1 0h1m1 0h1M2 34h1m1 0h1m9 0h2m3 0h1m1 0h1m2 0h1m0 0h1m1 0h1m1 0h1m5 0h3m2 0h3m1 0h1m0 0h1m1 0h1m1 0h1m2 0h1m1 0h2m0 0h2m0 0h1m2 0h1m3 0h1m0 0h1m0 0h1m4 0h2m0 0h1m5 0h1m3 0h1m2 0h1m7 0h1m1 0h1m2 0h1m4 0h1m2 0h2m0 0h1m8 0h1m12 0h1m8 0h2m0 0h1m0 0h1m0 0h1m3 0h1m7 0h1m13 0h1m1 0h3m5 0h1m11 0h1m1 0h1m2 0h1m1 0h2m1 0h1m10 0h1m2 0h2m2 0h1m1 0h2m1 0h1m17 0h1m0 0h1m3 0h1m7 0h4m13 0h1m1 0h1m2 0h1m0 0h1m6 0h2m2 0h1m1 0h1m0 0h1m1 0h2m3 0h1m1 0h1m2 0h1m1 0h1m0 0h2m1 0h2m5 0h1m3 0h1m2 0h1m5 0h1m2 0h1m2 0h3m0 0h2m1 0h1m1 0h1m1 0h3m0 0h2m3 0h1m1 0h1m0 0h1m5 0h1m6 0h1m0 0h1m1 0h1m8 0h2m3 0h1m6 0h1m1 0h1m3 0h1m4 0h2m4 0h2m0 0h2m12 0h2m6 0h1m1 0h1m0 0h1m3 0h1m6 0h2m4 0h1m0 0h1m2 0h1m0 0h1m3 0h1m6 0h1m4 0h2m2 0h1m5 0h1m0 0h2m3 0h1m1 0h1m17 0h1m1 0h1m4 0h1m0 0h1m0 0h1m2 0h1m2 0h1m0 0h1m1 0h1m0 0h1m9 0h1m0 0h1m0 0h2m5 0h1m2 0h1m3 0h1m0 0h1m4 0h3m4 0h1m0 0h2m2 0h1m0 0h1m3 0h2m3 0h1m0 0h1m1 0h2m2 0h2m0 0h1m1 0h1m0 0h1m5 0h1m1 0h1m2 0h1m1 0h1m0 0h1m1 0h1m1 0h2m3 0h1m3 0h1m0 0h1m0 0h1m5 0h1m1 0h1m0 0h1m0 0h1m2 0h1m1 0h2m0 0h1m0 0h1m0 0h1m2 0h1m0 0h2m0 0h1m1 0h1m2 0h1m3 0h1m1 0h2m1 0h1m1 0h1m0 0h2m0 0h1m1 0h4m0 0h1m0 0h2m0 0h1m1 0h2m0 0h1m2 0h2m1 0h1m0 0h1m0 0h1m0 0h2m2 0h1m0 0h1m7 0h2m1 0h1m0 0h1m1 0h1m3 0h1m0 0h1m0 0h1m1 0h3m0 0h1m1 0h1m2 0h2m1 0h2m0 0h1m7 0h2m1 0h1m6 0h1m2 0h1m2 0h1m0 0h1m2 0h1m1 0h2m0 0h1m2 0h1m1 0h2m2 0h1m1 0h1m0 0h1m0 0h3m0 0h1m2 0h1m3 0h1m0 0h1m0 0h1m1 0h1m1 0h1m2 0h1m2 0h1m0 0h1m1 0h1m3 0h1m2 0h2m0 0h1m1 0h1m1 0h1m0 0h1m0 0h1m6 0h1m0 0h2m3 0h2m2 0h1m2 0h1m2 0h1m0 0h1m0 0h2m0 0h1m0 0h2m2 0h3m0 0h1m0 0h4m3 0h1m4 0h2m1 0h1m0 0h1m4 0h1m2 0h1m0 0h2m4 0h1m4 0h1m0 0h1m3 0h1m1 0h1m0 0h1m3 0h1m4 0h1m1 0h1m2 0h1m1 0h2m0 0h1m0 0h1m1 0h1m2 0h2m2 0h1m0 0h1m2 0h1m3 0h1m1 0h1m0 0h1m0 0h4m2 0h1m1 0h1m0 0h2m0 0h1m0 0h1m0 0h1m0 0h1m2 0h2m1 0h1m3 0h1m0 0h1m4 0h1m0 0h1m0 0h1m0 0h2m5 0h1m0 0h1m5 0h1m0 0h1m0 0h1m7 0h1m2 0h1m1 0h1m1 0h1m1 0h2m0 0h1m6 0h2m1 0h1m1 0h1m0 0h1m9 0h1m5 0h1m1 0h1m1 0h1m1 0h1m0 0h1m2 0h1m3 0h1m2 0h1m0 0h1m3 0h1m1 0h1m0 0h1m2 0h1m4 0h1m1 0h1m3 0h1m6 0h1m2 0h1m0 0h1m0 0h1m1 0h2m0 0h1m0 0h1m0 0h1m1 0h1m2 0h1m1 0h1m0 0h1m1 0h1m0 0h1m0 0h1m0 0h1m3 0h2m201 0h1m5 0h1m4 0h1m1 0h1m11 0h1m0 0h1m0 0h1m5 0h2m0 0h1m6 0h1m0 0h1m0 0h3m2 0h2m1 0h1m3 0h1m1 0h1m1 0h1m0 0h1m1 0h1m0 0h1m3 0h4m0 0h1m3 0h1m5 0h1m1 0h1m0 0h1m1 0h1m0 0h1m7 0h2m5 0h1m11 0h2M0 35h1m1 0h1m0 0h1m8 0h1m6 0h1m0 0h1m5 0h1m1 0h1m1 0h1m1 0h1m4 0h1m3 0h1m7 0h1m0 0h2m0 0h1m0 0h1m4 0h3m9 0h2m3 0h1m5 0h1m5 0h1m9 0h1m0 0h1m0 0h1m0 0h1m7 0h1m2 0h1m0 0h3m3 0h2m8 0h3m9 0h1m3 0h2m3 0h1m1 0h1m3 0h1m0 0h1m2 0h1m7 0h1m11 0h1m0 0h1m3 0h1m6 0h1m6 0h2m0 0h1m2 0h1m1 0h4m8 0h1m6 0h1m5 0h1m6 0h1m2 0h1m5 0h2m0 0h1m7 0h3m3 0h1m3 0h3m2 0h1m0 0h1m0 0h1m3 0h1m4 0h1m7 0h1m0 0h3m0 0h1m6 0h1m0 0h1m4 0h1m0 0h2m2 0h1m3 0h1m0 0h1m0 0h1m2 0h1m0 0h1m1 0h1m1 0h1m1 0h1m0 0h1m3 0h1m0 0h1m0 0h1m1 0h1m0 0h1m3 0h1m1 0h2m11 0h1m4 0h1m2 0h1m0 0h1m4 0h1m1 0h1m3 0h1m4 0h1m2 0h1m2 0h1m2 0h1m1 0h1m0 0h1m0 0h2m13 0h1m0 0h1m9 0h2m4 0h1m3 0h1m2 0h1m3 0h2m0 0h1m2 0h1m1 0h1m1 0h1m0 0h2m3 0h1m11 0h1m0 0h1m4 0h1m1 0h1m2 0h1m1 0h2m1 0h1m7 0h1m3 0h2m7 0h1m0 0h1m3 0h1m3 0h1m10 0h1m0 0h2m5 0h1m2 0h1m6 0h2m2 0h1m0 0h1m6 0h1m2 0h1m0 0h1m10 0h1m0 0h1m5 0h1m4 0h1m0 0h1m0 0h2m0 0h1m5 0h1m6 0h1m0 0h1m2 0h1m6 0h2m0 0h1m2 0h1m0 0h1m0 0h1m1 0h1m1 0h1m5 0h1m2 0h1m3 0h1m2 0h2m4 0h1m2 0h1m4 0h1m0 0h1m1 0h1m2 0h1m1 0h1m2 0h4m3 0h1m1 0h1m3 0h2m0 0h1m1 0h1m0 0h1m3 0h1m0 0h1m12 0h1m2 0h1m0 0h1m6 0h1m2 0h1m1 0h1m1 0h1m0 0h1m0 0h1m0 0h1m7 0h1m3 0h2m2 0h1m0 0h1m3 0h2m1 0h1m0 0h1m1 0h1m0 0h1m5 0h1m0 0h1m0 0h1m3 0h1m3 0h2m4 0h1m1 0h2m2 0h1m0 0h1m0 0h1m1 0h1m3 0h2m1 0h1m0 0h2m1 0h1m3 0h1m3 0h1m4 0h1m0 0h1m1 0h1m0 0h1m0 0h1m0 0h1m1 0h1m0 0h1m1 0h1m1 0h1m8 0h1m5 0h1m0 0h1m4 0h1m4 0h1m5 0h1m6 0h1m1 0h1m0 0h1m0 0h1m2 0h1m2 0h1m0 0h1m0 0h1m5 0h1m1 0h1m0 0h1m0 0h1m1 0h1m1 0h1m4 0h1m0 0h1m0 0h2m6 0h1m1 0h1m1 0h1m1 0h1m3 0h1m3 0h1m0 0h1m0 0h1m2 0h1m0 0h1m2 0h1m4 0h2m0 0h2m0 0h1m13 0h1m1 0h1m0 0h1m0 0h1m0 0h2m5 0h1m1 0h1m0 0h4m2 0h2m0 0h1m1 0h1m1 0h1m0 0h1m0 0h1m2 0h1m1 0h1m0 0h1m1 0h1m5 0h1m4 0h1m1 0h2m0 0h1m0 0h1m0 0h1m1 0h1m0 0h2m0 0h1m1 0h1m1 0h1m1 0h1m0 0h1m1 0h1m3 0h1m1 0h1m5 0h1m1 0h1m2 0h1m1 0h1m2 0h1m5 0h1m1 0h2m1 0h1m6 0h4m1 0h1m1 0h4m0 0h2m0 0h1m0 0h1m0 0h2m0 0h1m0 0h1m13 0h1m0 0h1m1 0h1m1 0h1m2 0h2m0 0h1m1 0h1m0 0h1m0 0h1m0 0h1m1 0h2m5 0h1m1 0h1m1 0h1m2 0h2m0 0h1m0 0h1m0 0h3m0 0h1m1 0h1m1 0h1m2 0h1m0 0h2m0 0h1m2 0h2m2 0h1m0 0h1m3 0h1m1 0h1m1 0h1m0 0h1m3 0h3m0 0h1m2 0h1m115 0h2m1 0h1m0 0h1m4 0h2m2 0h1m5 0h1m7 0h1m0 0h1m0 0h1m2 0h1m0 0h1m0 0h1m4 0h1m2 0h2m0 0h1m1 0h1m2 0h1m5 0h1m6 0h1m0 0h2m0 0h1m4 0h2m0 0h1m4 0h1m0 0h2m2 0h2m7 0h1m4 0h1m0 0h3m1 0h1m2 0h2m4 0h1m6 0h1m3 0h1m2 0h3m3 0h1m3 0h1m9 0h1m2 0h3m7 0h1M0 36h2m4 0h1m1 0h2m0 0h1m0 0h1m3 0h3m0 0h2m1 0h1m1 0h1m0 0h1m4 0h1m7 0h1m4 0h2m3 0h2m7 0h2m4 0h1m6 0h1m3 0h1m1 0h1m5 0h1m23 0h1m19 0h1m8 0h1m0 0h1m1 0h2m3 0h1m8 0h1m2 0h3m2 0h1m1 0h1m3 0h1m1 0h2m3 0h2m5 0h1m0 0h2m0 0h2m2 0h2m0 0h1m1 0h1m2 0h2m4 0h1m6 0h1m1 0h1m1 0h1m4 0h1m4 0h1m0 0h1m3 0h2m16 0h1m0 0h1m5 0h2m1 0h1m4 0h1m0 0h1m11 0h1m1 0h1m1 0h2m7 0h1m2 0h1m3 0h1m7 0h1m0 0h1m4 0h2m3 0h1m2 0h1m1 0h3m3 0h2m1 0h1m10 0h1m0 0h1m0 0h1m3 0h1m22 0h1m3 0h1m7 0h1m4 0h1m4 0h1m5 0h2m1 0h1m13 0h1m6 0h2m1 0h1m1 0h2m0 0h1m2 0h2m9 0h2m1 0h1m0 0h2m6 0h1m9 0h1m0 0h1m2 0h2m3 0h1m2 0h1m0 0h1m3 0h2m7 0h1m10 0h1m0 0h1m7 0h1m12 0h3m5 0h1m1 0h2m5 0h1m0 0h1m3 0h2m0 0h1m4 0h1m2 0h2m2 0h1m28 0h1m0 0h1m8 0h1m1 0h1m1 0h1m0 0h1m3 0h1m4 0h1m1 0h1m1 0h1m2 0h1m1 0h2m4 0h1m2 0h2m0 0h1m3 0h1m1 0h2m0 0h1m2 0h2m2 0h2m4 0h1m2 0h1m1 0h1m5 0h1m5 0h1m4 0h1m2 0h1m1 0h1m2 0h1m0 0h1m0 0h1m6 0h1m1 0h1m0 0h1m0 0h1m1 0h1m1 0h2m0 0h1m2 0h1m0 0h1m0 0h2m0 0h1m3 0h1m3 0h1m0 0h2m3 0h1m0 0h1m1 0h1m4 0h2m13 0h1m8 0h1m0 0h1m7 0h2m2 0h3m0 0h1m0 0h1m0 0h1m3 0h1m0 0h1m3 0h1m1 0h1m6 0h2m0 0h1m2 0h2m0 0h2m2 0h2m1 0h2m0 0h1m0 0h1m0 0h1m1 0h1m0 0h1m3 0h1m3 0h2m8 0h3m1 0h1m2 0h1m6 0h1m1 0h1m0 0h1m0 0h2m0 0h3m1 0h2m2 0h1m2 0h2m0 0h1m5 0h1m8 0h1m3 0h1m0 0h1m1 0h2m1 0h1m1 0h1m4 0h1m5 0h1m1 0h1m5 0h1m1 0h1m0 0h1m0 0h1m4 0h2m1 0h2m2 0h1m3 0h1m1 0h2m0 0h1m1 0h1m5 0h1m0 0h2m0 0h1m2 0h1m1 0h1m3 0h1m3 0h1m2 0h2m4 0h1m6 0h1m3 0h1m4 0h1m2 0h1m4 0h1m4 0h2m0 0h1m0 0h1m2 0h1m0 0h2m14 0h1m4 0h1m0 0h1m8 0h2m2 0h1m4 0h1m4 0h1m7 0h1m0 0h1m4 0h3m1 0h1m5 0h1m1 0h1m2 0h1m0 0h1m1 0h1m2 0h1m0 0h1m2 0h1m1 0h1m4 0h1m3 0h1m0 0h1m0 0h1m3 0h1m0 0h1m1 0h2m5 0h3m0 0h1m3 0h2m8 0h1m4 0h1m1 0h1m3 0h1m0 0h1m5 0h1m3 0h1m0 0h1m0 0h1m0 0h1m2 0h1m0 0h1m6 0h1m0 0h1m1 0h1m1 0h1m1 0h1m0 0h2m5 0h1m0 0h1m0 0h1m0 0h1m3 0h1m2 0h1m1 0h1m0 0h1m0 0h1m1 0h1m4 0h1m0 0h1m2 0h1m3 0h1m0 0h1m0 0h1m3 0h1m5 0h1m3 0h1m6 0h1m2 0h1m6 0h1m6 0h2m1 0h1m0 0h2m6 0h1m11 0h3m3 0h1m2 0h1m2 0h1m0 0h1m7 0h1m1 0h1m8 0h1m1 0h3m4 0h2m5 0h1m0 0h2m3 0h1m6 0h1m0 0h1m36 0h1m3 0h3m19 0h1m18 0h2m7 0h1M2 37h1m7 0h3m17 0h1m1 0h1m13 0h1m9 0h1m18 0h1m0 0h1m2 0h2m2 0h1m2 0h1m2 0h1m2 0h1m6 0h1m5 0h1m5 0h1m26 0h2m1 0h2m0 0h1m14 0h1m6 0h1m11 0h2m0 0h1m13 0h1m1 0h1m0 0h1m3 0h1m0 0h1m7 0h1m3 0h1m16 0h1m2 0h2m0 0h1m0 0h1m8 0h1m1 0h3m5 0h1m0 0h1m0 0h3m3 0h1m12 0h1m0 0h1m8 0h1m1 0h1m4 0h1m5 0h1m0 0h1m15 0h1m3 0h1m2 0h1m5 0h1m4 0h1m0 0h1m7 0h1m1 0h1m3 0h1m8 0h1m2 0h1m1 0h1m6 0h1m2 0h1m1 0h1m1 0h1m5 0h1m2 0h1m2 0h1m0 0h2m4 0h1m3 0h1m4 0h1m1 0h1m1 0h2m4 0h1m0 0h1m0 0h1m2 0h1m2 0h1m0 0h1m8 0h1m1 0h1m0 0h1m10 0h2m1 0h1m1 0h1m4 0h3m3 0h1m3 0h1m9 0h2m18 0h1m18 0h1m2 0h2m3 0h1m0 0h1m0 0h1m6 0h1m13 0h1m0 0h1m12 0h1m9 0h1m5 0h1m0 0h2m3 0h2m3 0h1m1 0h2m3 0h1m1 0h1m1 0h1m0 0h4m5 0h2m12 0h1m0 0h2m1 0h1m0 0h1m0 0h1m4 0h1m6 0h1m1 0h1m3 0h1m0 0h1m7 0h1m3 0h1m1 0h1m2 0h2m2 0h1m0 0h2m0 0h1m0 0h1m3 0h1m1 0h1m1 0h1m3 0h1m0 0h2m0 0h1m0 0h1m0 0h2m6 0h1m1 0h2m2 0h1m13 0h1m0 0h1m2 0h1m4 0h1m5 0h2m0 0h1m5 0h2m0 0h1m2 0h1m1 0h1m8 0h1m0 0h2m0 0h1m0 0h1m5 0h1m14 0h1m0 0h1m5 0h3m1 0h1m1 0h2m6 0h1m3 0h1m4 0h3m7 0h1m9 0h1m4 0h2m6 0h1m5 0h1m15 0h1m0 0h2m0 0h1m13 0h1m7 0h2m3 0h1m0 0h1m0 0h2m2 0h1m5 0h1m3 0h1m3 0h1m2 0h1m0 0h1m1 0h2m2 0h1m5 0h1m2 0h1m0 0h1m2 0h1m0 0h1m1 0h1m1 0h1m5 0h1m0 0h1m5 0h2m2 0h1m0 0h4m1 0h1m3 0h1m0 0h1m0 0h2m0 0h2m10 0h1m0 0h1m0 0h2m1 0h1m0 0h1m0 0h1m0 0h4m1 0h1m0 0h3m2 0h1m1 0h1m3 0h1m0 0h3m1 0h1m0 0h1m3 0h1m3 0h1m2 0h4m0 0h1m0 0h1m1 0h1m0 0h1m4 0h2m1 0h2m3 0h1m0 0h2m2 0h1m1 0h1m1 0h2m0 0h2m0 0h1m7 0h2m3 0h2m0 0h1m2 0h1m1 0h2m2 0h1m0 0h1m0 0h1m6 0h2m2 0h1m5 0h1m1 0h1m3 0h2m2 0h1m1 0h3m0 0h2m1 0h1m3 0h1m1 0h1m5 0h1m1 0h1m6 0h1m0 0h1m1 0h1m0 0h2m0 0h1m4 0h1m0 0h1m0 0h1m4 0h1m0 0h1m0 0h1m5 0h1m1 0h1m1 0h1m0 0h1m0 0h1m0 0h1m0 0h1m0 0h1m6 0h1m0 0h2m0 0h1m0 0h1m1 0h1m1 0h1m14 0h1m1 0h1m0 0h1m0 0h1m0 0h1m0 0h2m8 0h1m4 0h2m1 0h2m10 0h1m9 0h1m1 0h3m1 0h1m7 0h2m4 0h1m4 0h1m1 0h1m1 0h1m2 0h2m2 0h1m6 0h2m9 0h1m1 0h2m0 0h2m1 0h2m1 0h2m0 0h1m1 0h2m1 0h2m1 0h2m0 0h1m1 0h2m9 0h2m25 0h2m0 0h2m0 0h2m9 0h1m2 0h1m28 0h1m7 0h1m3 0h2M3 38h1m2 0h1m16 0h1m11 0h1m20 0h1m6 0h2m7 0h1m21 0h1m5 0h1m7 0h1m6 0h1m1 0h1m2 0h1m1 0h1m2 0h2m1 0h3m8 0h1m13 0h2m13 0h1m2 0h1m0 0h2m2 0h1m11 0h1m4 0h1m2 0h2m1 0h1m8 0h1m8 0h1m11 0h1m26 0h1m0 0h1m4 0h1m10 0h1m11 0h1m9 0h2m0 0h2m1 0h1m0 0h1m0 0h1m8 0h1m1 0h1m5 0h1m4 0h3m6 0h1m0 0h1m1 0h1m3 0h1m1 0h1m6 0h3m7 0h2m11 0h1m7 0h1m7 0h2m6 0h1m0 0h1m9 0h1m0 0h1m17 0h1m1 0h1m1 0h1m3 0h1m2 0h3m1 0h1m4 0h1m0 0h1m7 0h1m4 0h1m3 0h1m1 0h1m2 0h1m5 0h1m0 0h1m3 0h1m2 0h3m0 0h1m40 0h1m4 0h1m4 0h1m0 0h1m8 0h1m0 0h1m6 0h2m5 0h1m29 0h1m1 0h1m3 0h1m0 0h1m1 0h1m12 0h1m1 0h1m0 0h1m0 0h2m19 0h1m5 0h1m2 0h1m4 0h3m1 0h3m1 0h1m3 0h1m4 0h1m2 0h1m2 0h3m0 0h2m6 0h1m4 0h1m1 0h1m7 0h3m0 0h2m3 0h1m2 0h1m1 0h1m7 0h1m1 0h1m2 0h1m1 0h2m1 0h1m0 0h1m0 0h1m2 0h2m0 0h1m8 0h1m25 0h1m14 0h1m3 0h2m0 0h1m2 0h1m10 0h1m3 0h1m5 0h1m8 0h1m3 0h1m5 0h1m8 0h3m1 0h1m7 0h2m3 0h1m22 0h2m1 0h1m1 0h1m4 0h2m3 0h1m18 0h1m0 0h1m1 0h1m5 0h1m3 0h1m0 0h1m1 0h1m13 0h2m2 0h2m0 0h1m4 0h1m6 0h1m4 0h1m1 0h1m3 0h1m0 0h2m6 0h2m25 0h1m3 0h1m0 0h2m7 0h2m2 0h1m2 0h1m3 0h2m4 0h1m4 0h1m4 0h1m2 0h1m0 0h1m6 0h3m2 0h1m1 0h1m4 0h1m1 0h1m13 0h1m7 0h2m6 0h1m1 0h1m0 0h1m7 0h1m1 0h1m3 0h1m0 0h1m6 0h1m0 0h1m0 0h5m11 0h1m4 0h1m5 0h1m6 0h1m6 0h1m4 0h1m0 0h1m2 0h1m0 0h1m1 0h3m4 0h2m9 0h2m0 0h1m0 0h1m2 0h1m2 0h1m5 0h1m5 0h3m1 0h1m1 0h1m1 0h1m0 0h1m10 0h1m4 0h1m2 0h1m2 0h1m5 0h1m4 0h1m1 0h1m2 0h1m0 0h1m3 0h1m2 0h1m0 0h1m0 0h1m1 0h1m7 0h1m7 0h1m0 0h1m10 0h2m4 0h4m0 0h1m2 0h1m8 0h1m1 0h1m3 0h2m5 0h1m0 0h2m5 0h2m4 0h1m26 0h1M2 39h1m2 0h1m3 0h2m1 0h1m29 0h1m15 0h1m4 0h1m11 0h1m4 0h1m2 0h1m1 0h1m3 0h1m3 0h1m2 0h1m14 0h1m8 0h1m1 0h2m6 0h1m4 0h1m11 0h1m8 0h2m17 0h1m15 0h1m6 0h1m7 0h1m1 0h1m8 0h1m9 0h1m12 0h1m0 0h1m1 0h1m2 0h1m15 0h1m1 0h1m4 0h1m4 0h1m1 0h1m4 0h1m3 0h1m6 0h1m7 0h2m0 0h1m1 0h1m9 0h1m3 0h1m3 0h2m11 0h1m0 0h1m0 0h1m3 0h1m1 0h1m3 0h1m14 0h1m0 0h2m2 0h2m2 0h2m0 0h2m6 0h1m1 0h2m9 0h1m7 0h2m1 0h1m9 0h1m8 0h1m4 0h1m5 0h1m19 0h1m16 0h1m13 0h1m6 0h1m4 0h2m5 0h1m16 0h1m0 0h1m11 0h1m13 0h1m0 0h1m9 0h1m3 0h1m8 0h3m13 0h1m11 0h1m3 0h1m1 0h2m1 0h1m2 0h1m2 0h1m7 0h1m12 0h1m3 0h1m7 0h1m1 0h2m1 0h1m1 0h1m10 0h1m5 0h1m3 0h1m6 0h1m4 0h1m8 0h1m2 0h1m2 0h1m3 0h1m1 0h2m8 0h1m8 0h1m0 0h1m13 0h1m3 0h1m19 0h1m3 0h1m7 0h1m6 0h3m3 0h5m1 0h1m19 0h1m4 0h1m6 0h1m6 0h1m3 0h2m7 0h1m3 0h1m10 0h1m2 0h3m4 0h3m4 0h1m7 0h1m14 0h1m4 0h1m1 0h1m0 0h1m2 0h1m9 0h1m6 0h1m0 0h1m7 0h1m0 0h2m4 0h1m0 0h1m0 0h1m0 0h2m1 0h1m0 0h2m6 0h1m1 0h1m12 0h2m6 0h3m12 0h1m1 0h1m0 0h1m5 0h1m0 0h3m1 0h1m16 0h1m0 0h1m0 0h2m4 0h1m19 0h1m0 0h1m0 0h1m0 0h1m6 0h1m1 0h1m8 0h1m0 0h1m2 0h1m5 0h1m1 0h1m1 0h2m15 0h1m5 0h1m6 0h1m3 0h1m2 0h1m2 0h1m3 0h1m0 0h1m19 0h1m5 0h1m7 0h1m2 0h1m7 0h1m1 0h1m0 0h1m3 0h1m8 0h1m3 0h2m1 0h2m4 0h3m7 0h1m2 0h1m9 0h2m4 0h1m5 0h1m0 0h1m1 0h1m4 0h1m7 0h1m1 0h1m3 0h1m2 0h1m19 0h1m8 0h1m8 0h2m0 0h2m2 0h1m8 0h1m6 0h2m2 0h1m3 0h1m11 0h1m0 0h2m7 0h1M34 40h1m16 0h1m8 0h1m5 0h1m6 0h1m3 0h1m3 0h1m5 0h1m18 0h2m6 0h1m1 0h1m5 0h1m1 0h2m11 0h1m1 0h2m19 0h3m11 0h2m9 0h1m1 0h1m12 0h1m2 0h1m5 0h1m17 0h1m11 0h1m0 0h1m2 0h1m0 0h2m0 0h1m17 0h2m11 0h1m0 0h2m0 0h1m6 0h2m5 0h1m0 0h1m11 0h1m3 0h2m4 0h1m2 0h2m6 0h1m13 0h1m1 0h2m1 0h1m20 0h2m7 0h1m4 0h1m10 0h2m9 0h2m4 0h1m2 0h1m5 0h1m12 0h2m8 0h1m21 0h1m13 0h1m15 0h3m5 0h1m18 0h1m0 0h1m18 0h1m12 0h1m0 0h4m5 0h2m16 0h1m2 0h1m1 0h1m3 0h2m3 0h1m0 0h1m4 0h1m16 0h2m6 0h1m8 0h1m2 0h3m5 0h1m6 0h2m11 0h1m5 0h1m1 0h1m25 0h1m5 0h1m6 0h2m3 0h1m9 0h1m6 0h1m3 0h2m4 0h1m32 0h3m0 0h1m11 0h1m0 0h1m0 0h1m3 0h3m6 0h2m8 0h1m8 0h1m2 0h2m15 0h1m0 0h1m11 0h2m1 0h2m2 0h3m35 0h1m6 0h1m10 0h1m0 0h1m6 0h3m8 0h1m14 0h2m9 0h1m2 0h1m5 0h1m14 0h1m1 0h2m3 0h1m6 0h1m1 0h1m7 0h1m3 0h1m16 0h2m4 0h1m27 0h1m26 0h1m1 0h2m6 0h1m4 0h1m12 0h2m3 0h1m3 0h1m3 0h1m9 0h3m1 0h1m0 0h1m1 0h1m9 0h1m0 0h2m1 0h1m0 0h1m3 0h2m5 0h1m5 0h3m0 0h1m25 0h1m1 0h1m12 0h1m9 0h1m4 0h2m13 0h1m0 0h1m2 0h4m2 0h1m2 0h1m7 0h1m1 0h1m20 0h1m5 0h2m1 0h1m40 0h2m5 0h1m8 0h1m1 0h1m37 0h1M0 41h1m12 0h2m9 0h1m3 0h1m0 0h1m1 0h3m4 0h1m1 0h1m2 0h2m12 0h1m56 0h1m40 0h1m54 0h1m2 0h1m1 0h1m10 0h1m8 0h1m8 0h1m0 0h1m8 0h2m0 0h2m7 0h1m4 0h1m20 0h1m0 0h1m2 0h1m14 0h2m9 0h1m3 0h1m25 0h1m8 0h1m1 0h1m6 0h1m18 0h1m1 0h3m7 0h1m10 0h1m1 0h1m1 0h1m1 0h1m5 0h1m39 0h3m2 0h2m14 0h1m61 0h1m9 0h1m6 0h1m5 0h1m18 0h1m11 0h4m0 0h2m22 0h2m12 0h1m1 0h2m13 0h1m11 0h1m4 0h1m3 0h1m0 0h2m10 0h1m2 0h1m0 0h1m11 0h2m10 0h1m6 0h1m28 0h1m2 0h1m14 0h1m6 0h1m3 0h1m2 0h1m7 0h1m1 0h1m9 0h1m33 0h1m6 0h2m2 0h1m49 0h1m2 0h2m3 0h1m6 0h1m0 0h1m1 0h1m10 0h2m3 0h1m6 0h1m16 0h1m3 0h1m8 0h1m8 0h1m10 0h1m0 0h2m6 0h1m0 0h1m0 0h1m1 0h1m0 0h1m8 0h1m0 0h2m2 0h1m0 0h1m3 0h1m1 0h1m4 0h2m1 0h1m1 0h1m1 0h1m5 0h1m1 0h3m8 0h1m3 0h1m9 0h1m13 0h1m18 0h1m1 0h2m5 0h1m1 0h2m3 0h1m8 0h1m3 0h1m3 0h1m2 0h1m10 0h2m6 0h2m4 0h1m13 0h1m10 0h1m1 0h1m0 0h1m8 0h1m2 0h1m0 0h1m11 0h2m0 0h1m6 0h2m10 0h1m4 0h1m4 0h1m0 0h1m14 0h2m10 0h1m2 0h1m0 0h1m19 0h1m29 0h2m4 0h2M4 42h1m2 0h2m3 0h1m25 0h1m1 0h2m24 0h1m7 0h1m2 0h1m2 0h2m1 0h1m15 0h1m3 0h1m0 0h1m4 0h1m5 0h1m11 0h1m27 0h1m2 0h1m4 0h1m1 0h1m38 0h1m16 0h1m0 0h1m2 0h1m0 0h2m16 0h1m20 0h1m5 0h1m14 0h1m10 0h1m2 0h1m25 0h2m9 0h1m5 0h1m1 0h2m20 0h2m2 0h1m5 0h1m3 0h1m9 0h2m10 0h2m16 0h1m11 0h1m65 0h2m29 0h1m22 0h2m29 0h1m38 0h1m22 0h1m9 0h1m12 0h1m20 0h1m21 0h1m29 0h1m0 0h1m26 0h1m7 0h2m0 0h1m14 0h1m3 0h1m23 0h1m90 0h1m26 0h1m19 0h1m13 0h1m13 0h1m25 0h2m7 0h1m13 0h1m3 0h1m28 0h1m23 0h1m9 0h1m10 0h1m3 0h1m5 0h1m5 0h1m2 0h1m18 0h1m4 0h1m10 0h1m13 0h1m14 0h1m4 0h1m9 0h1m16 0h2m0 0h1m17 0h2m25 0h1m12 0h1m23 0h1m18 0h1m45 0h1M9 43h1m5 0h1m0 0h1m16 0h1m72 0h1m13 0h1m28 0h1m16 0h2m12 0h2m19 0h2m4 0h1m8 0h1m13 0h3m1 0h1m1 0h1m7 0h1m23 0h1m25 0h1m7 0h1m9 0h2m8 0h1m15 0h1m41 0h1m3 0h3m0 0h2m6 0h1m3 0h2m12 0h2m2 0h2m5 0h1m0 0h2m0 0h1m35 0h1m8 0h1m19 0h1m58 0h2m66 0h3m3 0h1m11 0h1m29 0h2m8 0h1m8 0h1m35 0h1m6 0h1m7 0h1m58 0h1m3 0h1m16 0h1m31 0h2m37 0h1m34 0h1m37 0h1m1 0h2m3 0h2m12 0h1m14 0h2m11 0h2m2 0h1m10 0h1m5 0h1m35 0h1m21 0h1m4 0h1m0 0h1m1 0h1m12 0h1m21 0h1m0 0h1m18 0h1m12 0h1m4 0h1m2 0h2m1 0h1m12 0h1m2 0h1m7 0h1m1 0h1m10 0h3m13 0h1m20 0h1m1 0h1m4 0h1m4 0h1m7 0h1m14 0h1m1 0h2m26 0h1m10 0h1m12 0h1m1 0h1M16 44h2m19 0h2m2 0h1m7 0h2m5 0h3m8 0h1m7 0h1m18 0h2m33 0h1m0 0h2m13 0h1m9 0h1m9 0h1m27 0h1m9 0h2m4 0h1m0 0h1m5 0h1m1 0h1m8 0h1m27 0h2m5 0h3m17 0h4m11 0h1m4 0h3m4 0h3m4 0h2m13 0h2m16 0h1m4 0h3m1 0h2m0 0h1m17 0h2m3 0h1m11 0h1m3 0h1m8 0h4m16 0h2m25 0h1m7 0h1m7 0h1m113 0h2m45 0h1m18 0h1m10 0h1m40 0h1m3 0h2m9 0h2m3 0h4m44 0h1m10 0h1m61 0h1m53 0h1m14 0h2m4 0h1m38 0h2m8 0h1m5 0h1m1 0h3m2 0h2m90 0h1m44 0h1m13 0h1m8 0h1m4 0h1m15 0h1m15 0h1m6 0h1m9 0h1m8 0h1m12 0h1m22 0h1m57 0h1M0 45h2m16 0h1m4 0h1m41 0h1m3 0h1m22 0h1m33 0h1m16 0h1m0 0h1m6 0h1m7 0h1m3 0h1m2 0h3m7 0h1m20 0h1m27 0h1m4 0h1m1 0h1m13 0h2m27 0h1m9 0h2m33 0h1m1 0h2m16 0h1m62 0h1m27 0h1m3 0h2m94 0h3m33 0h1m8 0h2m71 0h2m6 0h1m14 0h1m8 0h1m92 0h1m2 0h1m147 0h1m9 0h1m1 0h1m35 0h2m5 0h1m38 0h1m18 0h1m24 0h1m14 0h1m44 0h1m60 0h1m6 0h2m3 0h1m25 0h1m26 0h1m3 0h1m5 0h1M27 46h1m29 0h1m16 0h1m4 0h1m3 0h1m12 0h1m18 0h1m24 0h2m12 0h2m4 0h1m9 0h2m13 0h1m0 0h1m0 0h1m13 0h1m0 0h1m23 0h1m8 0h1m8 0h1m0 0h1m11 0h2m10 0h1m12 0h1m6 0h1m55 0h1m2 0h1m2 0h1m0 0h1m22 0h1m0 0h1m4 0h2m0 0h1m35 0h1m24 0h1m0 0h1m1 0h1m109 0h1m43 0h1m26 0h1m17 0h2m17 0h1m30 0h1m216 0h1m71 0h1m14 0h1m7 0h1m68 0h1m7 0h1m8 0h1m24 0h1m0 0h1m39 0h1m3 0h1m95 0h1M8 47h1m8 0h1m5 0h2m14 0h1m13 0h2m27 0h1m32 0h2m2 0h2m30 0h1m0 0h1m65 0h1m28 0h1m12 0h1m10 0h2m6 0h2m11 0h1m0 0h1m9 0h1m21 0h2m28 0h1m23 0h2m7 0h1m14 0h1m21 0h2m36 0h2m86 0h1m41 0h1m29 0h1m8 0h1m6 0h1m22 0h1m3 0h2m20 0h2m319 0h1m4 0h1m45 0h1m41 0h2m2 0h1m6 0h2m22 0h1m0 0h1m5 0h2m31 0h1m2 0h1m2 0h1m29 0h1m0 0h1m25 0h1m1 0h2m19 0h1m55 0h1M5 48h1m18 0h1m5 0h1m9 0h1m15 0h2m44 0h1m100 0h3m25 0h2m15 0h2m95 0h2m19 0h1m19 0h1m18 0h1m27 0h1m0 0h1m165 0h1m101 0h1m336 0h2m86 0h1m75 0h2m64 0h1M47 49h1m23 0h1m15 0h2m6 0h1m118 0h2m27 0h1m2 0h1m51 0h1m1 0h2m2 0h1m40 0h1m24 0h1m58 0h2m18 0h4m627 0h1m95 0h1M56 50h1m27 0h1m3 0h3m37 0h1m17 0h1m94 0h1m43 0h1m12 0h3m27 0h1m18 0h2m2 0h1m47 0h1m667 0h1m116 0h1m41 0h1M59 51h2m24 0h2m43 0h1m83 0h1m2 0h1m15 0h2m62 0h1m19 0h1m30 0h1m9 0h1m16 0h1m29 0h1M33 52h1m77 0h1m91 0h2m7 0h2m21 0h3m29 0h2m44 0h1m9 0h1m88 0h2m3 0h1m13 0h1M5 53h1m177 0h2m55 0h1m68 0h1m5 0h5m24 0h2m34 0h1m20 0h1M76 54h1m45 0h1m82 0h1m115 0h1m16 0h2m23 0h1M18 55h1m157 0h1m65 0h1m27 0h2m20 0h1m17 0h1M111 56h1m144 0h1m13 0h1m74 0h1M300 57h1" stroke="#fff"/>
<path d="M463 3h1M488 4h2m1 0h1M437 5h1m110 0h2M412 6h2m41 0h1m26 0h1m24 0h1m38 0h1m96 0h1M568 7h1m68 0h1m34 0h2m158 0h1m579 0h1M527 8h1m66 0h1m67 0h1m4 0h1m1 0h1m240 0h1m468 0h1m6 0h1M417 9h1m64 0h1m2 0h1m13 0h1m7 0h3m28 0h1m59 0h1m0 0h1m48 0h2m4 0h1m52 0h2m66 0h1m40 0h2m33 0h1m28 0h1m545 0h1m7 0h1M437 10h1m2 0h1m5 0h1m0 0h1m35 0h2m10 0h1m6 0h1m33 0h1m6 0h1m21 0h1m25 0h1m64 0h1m90 0h1m2 0h2m72 0h1m32 0h2m36 0h2m15 0h1m7 0h2m4 0h1m440 0h1m9 0h1M29 11h1m47 0h2m5 0h1m136 0h3m177 0h1m3 0h1m24 0h1m52 0h1m8 0h1m8 0h1m26 0h1m8 0h1m0 0h2m15 0h1m41 0h1m2 0h1m2 0h2m33 0h3m0 0h1m5 0h1m57 0h1m36 0h1m7 0h1m43 0h1m1 0h1m18 0h2m33 0h1m4 0h1m13 0h1m13 0h1m4 0h1m9 0h1m51 0h1m415 0h1m26 0h1m3 0h1m31 0h4M410 12h2m10 0h2m6 0h1m24 0h1m20 0h1m2 0h2m2 0h2m9 0h1m2 0h1m12 0h1m12 0h1m1 0h1m25 0h1m35 0h1m4 0h2m18 0h1m19 0h1m1 0h1m3 0h1m134 0h1m16 0h2m38 0h1m34 0h1m2 0h1m3 0h1m13 0h1m0 0h1m6 0h1m47 0h2m56 0h1m295 0h1m42 0h1m2 0h1m24 0h1m13 0h2m5 0h1m4 0h2m18 0h1m9 0h2m0 0h1M9 13h3m29 0h2m77 0h1m61 0h1m86 0h2m26 0h1m134 0h2m5 0h1m17 0h1m36 0h1m17 0h1m3 0h1m32 0h1m1 0h3m10 0h1m2 0h2m12 0h1m1 0h1m3 0h3m7 0h1m0 0h3m2 0h1m12 0h1m1 0h1m12 0h1m11 0h1m11 0h1m0 0h3m11 0h2m8 0h1m26 0h2m0 0h1m1 0h1m96 0h1m3 0h1m5 0h3m1 0h1m16 0h1m13 0h1m28 0h1m40 0h1m14 0h1m375 0h2m5 0h2m15 0h2m9 0h1m48 0h1m8 0h1m17 0h1m11 0h3M142 14h2m24 0h1m8 0h1m33 0h1m7 0h1m95 0h3m86 0h2m30 0h1m18 0h1m9 0h1m6 0h1m14 0h2m3 0h1m1 0h1m9 0h2m1 0h1m8 0h1m20 0h1m11 0h1m10 0h1m1 0h1m42 0h1m3 0h1m8 0h1m3 0h1m25 0h1m4 0h1m3 0h1m9 0h1m54 0h1m0 0h1m0 0h1m9 0h2m2 0h1m77 0h1m6 0h1m11 0h2m9 0h2m36 0h1m19 0h1m16 0h1m4 0h3m18 0h1m46 0h2m43 0h1m54 0h1m0 0h3m134 0h1m26 0h1m8 0h2m3 0h1m5 0h1m1 0h2m16 0h2m36 0h1m17 0h1m6 0h1m3 0h1m6 0h1m6 0h1m23 0h2m6 0h2m12 0h1m10 0h2M136 15h3m53 0h1m35 0h1m40 0h1m133 0h2m0 0h1m20 0h1m28 0h1m3 0h1m43 0h1m13 0h2m0 0h1m3 0h1m25 0h1m10 0h1m8 0h1m4 0h1m23 0h1m2 0h2m15 0h1m18 0h2m3 0h1m1 0h1m16 0h1m16 0h1m41 0h1m32 0h1m6 0h1m33 0h1m8 0h1m0 0h1m9 0h1m0 0h1m29 0h1m4 0h1m2 0h1m14 0h1m1 0h1m1 0h1m3 0h1m1 0h2m6 0h1m7 0h1m12 0h1m4 0h1m0 0h1m7 0h1m37 0h1m51 0h2m71 0h1m246 0h1m28 0h1m45 0h3m7 0h1m0 0h1m3 0h1m4 0h3m5 0h2M1 16h1m365 0h1m6 0h1m27 0h2m0 0h1m20 0h1m8 0h1m8 0h2m12 0h2m10 0h1m12 0h1m4 0h1m15 0h1m5 0h1m20 0h2m0 0h1m6 0h1m0 0h3m12 0h1m10 0h1m25 0h1m8 0h1m17 0h1m6 0h2m3 0h1m4 0h2m46 0h1m2 0h1m1 0h1m4 0h1m5 0h1m0 0h1m1 0h1m2 0h2m16 0h3m14 0h2m5 0h1m6 0h1m0 0h2m7 0h1m3 0h1m23 0h1m34 0h1m8 0h1m23 0h1m1 0h1m7 0h2m12 0h3m4 0h3m24 0h1m2 0h1m5 0h1m2 0h3m4 0h1m62 0h2m132 0h2m84 0h1m11 0h1m8 0h1m47 0h1m25 0h2m3 0h1m14 0h1m12 0h1m15 0h1m9 0h1m1 0h1m3 0h1m21 0h1m9 0h2m17 0h1m3 0h1m1 0h2M0 17h1m332 0h1m1 0h3m21 0h1m25 0h1m3 0h1m33 0h1m10 0h1m2 0h1m15 0h1m0 0h1m5 0h1m8 0h1m12 0h1m3 0h2m0 0h1m1 0h1m4 0h1m22 0h1m0 0h2m5 0h1m14 0h1m6 0h1m7 0h1m3 0h2m9 0h1m7 0h1m10 0h2m24 0h2m3 0h1m1 0h1m7 0h1m1 0h2m1 0h1m5 0h2m15 0h4m26 0h1m63 0h3m4 0h2m0 0h1m9 0h1m3 0h1m9 0h1m8 0h2m5 0h1m1 0h1m20 0h1m0 0h1m18 0h1m2 0h1m2 0h1m2 0h1m8 0h1m0 0h1m8 0h1m2 0h1m3 0h2m2 0h1m16 0h2m21 0h3m12 0h2m11 0h2m30 0h1m112 0h1m117 0h2m22 0h1m86 0h1m10 0h1m33 0h1m13 0h3m5 0h1m4 0h1m3 0h1m1 0h2m2 0h1m7 0h2m4 0h1m8 0h2m6 0h1M98 18h2m13 0h1m63 0h1m0 0h1m70 0h2m3 0h2m10 0h1m134 0h1m19 0h1m17 0h1m6 0h1m2 0h1m7 0h1m16 0h1m0 0h3m1 0h1m25 0h1m4 0h1m2 0h4m0 0h1m5 0h1m1 0h1m13 0h1m4 0h1m17 0h1m12 0h1m2 0h1m1 0h1m17 0h1m4 0h1m35 0h1m5 0h1m2 0h1m9 0h1m0 0h1m8 0h2m22 0h1m1 0h2m41 0h1m2 0h1m18 0h1m3 0h1m9 0h1m7 0h2m1 0h1m6 0h3m1 0h1m6 0h1m1 0h1m5 0h1m22 0h1m16 0h1m23 0h1m7 0h1m11 0h1m15 0h1m3 0h2m0 0h1m3 0h2m11 0h2m2 0h1m3 0h1m16 0h1m6 0h1m7 0h1m3 0h3m41 0h1m59 0h1m48 0h2m85 0h2m35 0h1m4 0h1m20 0h1m7 0h1m22 0h1m14 0h1m8 0h1m6 0h1m1 0h1m5 0h1m2 0h1m5 0h1m3 0h1m2 0h2m6 0h1m1 0h1m6 0h4m11 0h2m1 0h1m2 0h3m3 0h1m1 0h1m7 0h1m12 0h1m1 0h1M21 19h1m39 0h1m15 0h1m67 0h1m0 0h2m202 0h1m18 0h2m1 0h1m7 0h1m2 0h1m17 0h1m11 0h2m10 0h1m0 0h1m10 0h1m18 0h1m4 0h1m0 0h1m1 0h1m0 0h2m3 0h1m13 0h1m4 0h1m6 0h2m4 0h1m11 0h1m0 0h2m0 0h1m3 0h1m8 0h1m18 0h1m2 0h1m1 0h2m2 0h3m8 0h2m21 0h2m5 0h1m8 0h2m4 0h1m19 0h1m0 0h1m3 0h1m9 0h1m7 0h1m1 0h1m3 0h1m1 0h1m8 0h1m9 0h1m9 0h1m9 0h1m20 0h1m1 0h1m18 0h1m24 0h1m1 0h1m0 0h1m0 0h1m12 0h2m1 0h1m4 0h1m13 0h1m3 0h2m11 0h4m8 0h1m8 0h1m3 0h1m7 0h1m0 0h1m15 0h1m3 0h1m3 0h3m15 0h1m0 0h1m2 0h2m14 0h1m3 0h1m5 0h2m0 0h2m14 0h1m1 0h1m8 0h1m3 0h1m6 0h1m66 0h2m9 0h1m7 0h1m0 0h1m0 0h1m7 0h1m214 0h2m10 0h1m1 0h1m1 0h1m30 0h1m7 0h1m4 0h1m2 0h1m12 0h1m9 0h1m5 0h1m7 0h3m0 0h1m1 0h1m1 0h1m3 0h1m0 0h1m0 0h2m0 0h1m2 0h2m2 0h1m8 0h2m1 0h1m11 0h1m3 0h2m1 0h2M40 20h1m12 0h1m109 0h1m28 0h1m62 0h1m62 0h4m38 0h1m20 0h1m16 0h2m23 0h2m4 0h1m7 0h2m5 0h1m9 0h1m0 0h1m7 0h1m1 0h1m4 0h3m2 0h1m26 0h2m8 0h1m1 0h1m13 0h1m8 0h2m3 0h1m3 0h1m16 0h1m11 0h1m5 0h1m1 0h1m4 0h2m9 0h1m12 0h1m5 0h3m6 0h1m6 0h1m1 0h1m6 0h1m2 0h1m10 0h1m0 0h1m0 0h1m4 0h1m1 0h1m16 0h2m13 0h1m10 0h1m4 0h1m2 0h1m7 0h1m34 0h1m6 0h1m0 0h1m10 0h4m3 0h1m0 0h1m0 0h1m23 0h1m0 0h1m2 0h2m0 0h1m2 0h1m15 0h2m2 0h1m5 0h1m3 0h1m3 0h1m5 0h1m4 0h2m2 0h1m2 0h1m6 0h1m0 0h1m1 0h1m2 0h1m24 0h1m4 0h1m6 0h3m5 0h1m1 0h1m1 0h1m13 0h1m2 0h1m0 0h3m13 0h2m48 0h1m1 0h1m26 0h1m7 0h1m12 0h2m8 0h1m54 0h1m9 0h1m33 0h1m40 0h1m35 0h1m13 0h1m33 0h1m8 0h1m14 0h3m2 0h1m12 0h1m3 0h1m3 0h1m8 0h1m1 0h1m3 0h1m10 0h1m6 0h1m0 0h1m12 0h1m0 0h1m5 0h1m17 0h1m2 0h1m2 0h1m0 0h1m1 0h1m1 0h2M40 21h2m38 0h1m3 0h1m40 0h1m7 0h1m54 0h1m5 0h3m25 0h1m6 0h1m78 0h2m17 0h3m37 0h3m3 0h1m43 0h1m0 0h3m5 0h1m4 0h1m9 0h2m3 0h3m3 0h2m8 0h1m3 0h1m3 0h2m10 0h1m0 0h1m0 0h1m2 0h1m3 0h1m6 0h1m5 0h1m1 0h1m4 0h1m1 0h1m11 0h2m5 0h2m0 0h1m10 0h2m8 0h2m3 0h2m2 0h1m1 0h1m3 0h1m0 0h1m7 0h1m6 0h1m1 0h1m12 0h2m21 0h1m10 0h1m3 0h1m0 0h3m0 0h1m9 0h1m1 0h2m8 0h2m19 0h2m11 0h1m6 0h1m9 0h2m18 0h1m7 0h2m0 0h2m7 0h1m13 0h1m9 0h1m6 0h1m10 0h1m11 0h1m4 0h1m13 0h1m1 0h1m2 0h2m1 0h1m2 0h1m2 0h1m12 0h1m3 0h1m11 0h1m1 0h1m3 0h1m1 0h1m4 0h2m5 0h1m1 0h1m4 0h1m23 0h1m3 0h1m0 0h1m0 0h1m1 0h1m35 0h1m0 0h1m11 0h2m6 0h2m0 0h1m12 0h1m43 0h1m24 0h1m39 0h1m31 0h1m11 0h1m57 0h1m12 0h1m7 0h1m24 0h1m8 0h2m17 0h3m26 0h2m1 0h2m6 0h2m2 0h1m3 0h1m12 0h1m2 0h1m2 0h1m0 0h1m0 0h1m10 0h1m1 0h1m4 0h3m5 0h1m2 0h2m5 0h1m1 0h1m0 0h1m4 0h1m2 0h3m0 0h1m0 0h1m1 0h4m0 0h1m1 0h1m2 0h1m9 0h1m4 0h2M13 22h1m0 0h1m61 0h1m56 0h3m25 0h1m93 0h1m118 0h2m8 0h1m12 0h1m6 0h1m18 0h1m15 0h1m4 0h1m5 0h1m7 0h1m2 0h1m10 0h1m1 0h1m2 0h1m0 0h2m3 0h2m6 0h1m0 0h1m4 0h1m7 0h1m19 0h1m2 0h1m1 0h1m7 0h1m4 0h1m5 0h1m3 0h1m10 0h1m8 0h1m6 0h1m18 0h1m2 0h1m2 0h1m12 0h1m2 0h2m3 0h2m1 0h2m3 0h1m11 0h2m0 0h2m3 0h1m1 0h1m2 0h1m10 0h1m3 0h1m2 0h1m1 0h2m3 0h1m11 0h1m8 0h1m0 0h1m0 0h3m2 0h1m3 0h1m22 0h1m0 0h1m0 0h1m6 0h2m9 0h1m5 0h1m2 0h1m7 0h1m11 0h1m9 0h1m14 0h1m0 0h1m1 0h2m2 0h1m4 0h1m0 0h1m1 0h1m11 0h1m19 0h1m0 0h1m0 0h2m3 0h1m13 0h1m0 0h1m1 0h1m3 0h1m1 0h1m16 0h1m0 0h1m6 0h2m2 0h2m0 0h1m3 0h2m0 0h1m1 0h1m0 0h1m1 0h1m6 0h1m12 0h1m11 0h1m10 0h1m2 0h2m46 0h3m35 0h2m6 0h2m12 0h1m19 0h2m6 0h2m5 0h1m41 0h1m11 0h1m20 0h1m4 0h1m12 0h1m28 0h1m1 0h2m5 0h1m16 0h2m2 0h1m2 0h1m6 0h1m4 0h2m5 0h1m4 0h2m1 0h1m42 0h1m2 0h2m0 0h2m2 0h1m4 0h1m9 0h1m2 0h1m2 0h1m0 0h2m8 0h2m1 0h1m2 0h1m0 0h2m0 0h2m2 0h1m1 0h1m1 0h1m3 0h1m3 0h1m0 0h2m10 0h1m0 0h1m6 0h1m1 0h1m0 0h1m0 0h1M5 23h3m65 0h2m28 0h1m76 0h2m37 0h2m1 0h1m14 0h1m12 0h1m31 0h2m17 0h2m28 0h1m39 0h2m7 0h1m8 0h1m28 0h1m3 0h1m11 0h1m5 0h1m20 0h1m3 0h1m9 0h1m4 0h1m0 0h1m6 0h1m0 0h1m1 0h1m4 0h1m6 0h1m0 0h2m0 0h1m2 0h2m0 0h1m1 0h2m3 0h1m0 0h1m2 0h1m12 0h4m2 0h1m3 0h1m4 0h1m2 0h2m5 0h1m5 0h2m3 0h2m1 0h1m15 0h1m3 0h1m1 0h1m0 0h2m8 0h1m2 0h1m7 0h1m0 0h2m2 0h1m5 0h2m10 0h1m2 0h1m2 0h1m2 0h1m4 0h1m1 0h1m2 0h1m4 0h2m4 0h1m7 0h2m2 0h1m5 0h1m6 0h1m5 0h1m0 0h1m5 0h1m7 0h1m8 0h1m5 0h1m4 0h1m8 0h1m24 0h1m5 0h1m0 0h1m4 0h1m7 0h1m0 0h1m2 0h1m4 0h1m8 0h1m3 0h1m9 0h1m5 0h2m4 0h1m1 0h1m0 0h1m2 0h2m0 0h1m6 0h1m16 0h1m5 0h1m5 0h2m1 0h1m12 0h1m1 0h1m5 0h1m6 0h1m4 0h2m4 0h1m13 0h1m3 0h1m12 0h1m2 0h1m13 0h1m9 0h1m0 0h1m5 0h1m7 0h1m9 0h1m0 0h1m48 0h3m3 0h1m9 0h1m11 0h1m26 0h4m0 0h1m104 0h2m0 0h1m8 0h1m10 0h1m3 0h1m23 0h1m4 0h1m15 0h1m4 0h1m1 0h2m6 0h2m8 0h1m11 0h2m4 0h3m2 0h1m0 0h2m3 0h1m2 0h1m4 0h1m1 0h1m10 0h2m3 0h2m10 0h1m1 0h1m1 0h1m1 0h2m0 0h1m7 0h1m1 0h1m0 0h1m6 0h1m0 0h3m1 0h2m0 0h1m15 0h1m2 0h2m4 0h1M47 24h2m33 0h5m6 0h2m168 0h1m15 0h1m2 0h1m4 0h3m5 0h1m17 0h1m37 0h1m3 0h2m17 0h1m19 0h1m5 0h1m3 0h1m5 0h1m10 0h1m8 0h2m5 0h1m5 0h1m10 0h2m0 0h1m5 0h1m2 0h1m0 0h3m0 0h1m1 0h2m1 0h1m0 0h1m3 0h1m2 0h1m2 0h1m2 0h1m0 0h1m6 0h1m0 0h1m5 0h1m3 0h1m0 0h2m2 0h1m11 0h1m1 0h1m0 0h3m3 0h2m2 0h1m0 0h1m17 0h1m0 0h1m7 0h1m0 0h1m4 0h1m6 0h1m2 0h2m2 0h2m2 0h1m2 0h1m1 0h1m0 0h2m8 0h1m4 0h2m0 0h1m3 0h2m6 0h1m8 0h1m5 0h1m23 0h1m3 0h2m9 0h1m4 0h1m24 0h2m4 0h2m0 0h1m0 0h1m5 0h2m5 0h1m4 0h2m0 0h1m0 0h2m1 0h1m13 0h2m5 0h1m2 0h1m1 0h1m2 0h2m0 0h1m1 0h1m0 0h1m4 0h2m0 0h2m2 0h1m1 0h1m0 0h1m12 0h1m0 0h1m2 0h1m2 0h3m0 0h1m20 0h1m3 0h1m6 0h1m1 0h1m1 0h1m2 0h2m1 0h1m3 0h1m0 0h3m2 0h1m0 0h1m1 0h1m0 0h1m1 0h1m3 0h1m4 0h1m3 0h1m2 0h1m2 0h1m5 0h1m0 0h1m16 0h1m2 0h1m1 0h1m5 0h1m2 0h1m12 0h1m19 0h1m1 0h1m74 0h1m14 0h1m1 0h1m45 0h1m29 0h1m1 0h1m15 0h1m8 0h1m20 0h1m17 0h1m32 0h1m30 0h1m4 0h2m2 0h1m18 0h3m3 0h1m18 0h1m0 0h1m0 0h3m0 0h1m0 0h1m0 0h1m6 0h1m0 0h3m1 0h2m0 0h1m0 0h3m1 0h1m1 0h1m1 0h2m7 0h4m1 0h1m0 0h2m0 0h1m4 0h2m0 0h1m5 0h1m3 0h1m1 0h1m11 0h1m0 0h1m2 0h1m1 0h2m3 0h1m0 0h1m4 0h1m4 0h1m1 0h1m3 0h1m3 0h1m4 0h1m0 0h1m1 0h1m1 0h1M278 25h3m9 0h1m30 0h1m2 0h1m55 0h1m4 0h1m12 0h1m0 0h1m0 0h1m5 0h1m4 0h1m9 0h1m2 0h1m0 0h1m92 0h1m6 0h1m1 0h2m2 0h1m1 0h2m5 0h1m1 0h2m7 0h1m6 0h1m0 0h2m0 0h1m0 0h2m2 0h1m3 0h1m0 0h1m10 0h1m0 0h1m0 0h1m2 0h4m0 0h1m1 0h1m5 0h1m6 0h1m6 0h1m0 0h1m0 0h1m2 0h2m2 0h1m3 0h1m4 0h3m3 0h1m2 0h1m0 0h1m5 0h1m1 0h1m9 0h1m8 0h1m7 0h2m0 0h1m9 0h1m0 0h1m3 0h1m7 0h1m0 0h1m1 0h1m14 0h2m4 0h1m11 0h3m3 0h1m6 0h1m23 0h2m0 0h1m1 0h2m16 0h1m29 0h1m4 0h1m3 0h4m2 0h1m1 0h1m5 0h1m5 0h1m2 0h1m0 0h3m0 0h1m0 0h1m2 0h1m2 0h1m7 0h1m1 0h2m1 0h1m2 0h1m5 0h1m6 0h1m2 0h1m0 0h1m0 0h1m2 0h2m6 0h1m6 0h3m3 0h1m8 0h2m3 0h1m10 0h1m1 0h1m5 0h1m0 0h2m3 0h1m5 0h1m4 0h3m1 0h1m0 0h2m4 0h2m6 0h1m37 0h1m3 0h1m8 0h1m9 0h1m8 0h1m52 0h1m2 0h1m9 0h2m0 0h1m5 0h1m33 0h1m86 0h1m8 0h1m2 0h1m7 0h1m10 0h1m7 0h2m2 0h1m7 0h1m12 0h1m2 0h2m2 0h1m2 0h1m4 0h2m0 0h1m0 0h1m2 0h1m5 0h1m2 0h1m2 0h1m0 0h1m2 0h1m0 0h1m0 0h1m1 0h2m0 0h2m6 0h3m1 0h1m3 0h1m6 0h1m1 0h1m2 0h2m1 0h1m7 0h1m2 0h1m2 0h1m0 0h1m0 0h1m2 0h4m1 0h2m1 0h1m0 0h1m7 0h1m3 0h1M540 26h2m8 0h2m1 0h1m0 0h1m4 0h1m2 0h1m0 0h1m7 0h1m5 0h2m2 0h2m2 0h1m13 0h1m2 0h2m1 0h1m0 0h1m6 0h1m6 0h2m3 0h2m10 0h1m6 0h1m1 0h1m6 0h1m1 0h1m0 0h2m11 0h3m5 0h2m1 0h1m3 0h1m0 0h1m2 0h2m2 0h2m8 0h1m0 0h1m20 0h2m8 0h1m4 0h1m1 0h3m0 0h1m7 0h1m0 0h1m0 0h1m12 0h1m1 0h2m1 0h1m3 0h2m9 0h1m12 0h2m4 0h1m5 0h1m7 0h1m1 0h1m1 0h1m2 0h1m15 0h1m10 0h2m4 0h1m3 0h1m7 0h1m3 0h1m2 0h1m0 0h2m4 0h1m2 0h1m0 0h1m2 0h1m0 0h1m0 0h2m0 0h1m1 0h1m3 0h2m0 0h1m2 0h1m7 0h2m5 0h1m9 0h2m4 0h2m1 0h2m6 0h2m13 0h3m5 0h1m15 0h1m0 0h1m5 0h1m14 0h1m5 0h1m21 0h1m33 0h1m1 0h1m16 0h1m8 0h1m22 0h1m33 0h1m40 0h1m20 0h1m21 0h2m4 0h4m14 0h1m6 0h1m1 0h1m14 0h2m0 0h1m1 0h1m5 0h1m9 0h1m13 0h1m3 0h1m5 0h2m3 0h1m0 0h1m0 0h1m4 0h1m2 0h1m0 0h1m0 0h1m0 0h1m0 0h1m0 0h1m0 0h1m13 0h1m4 0h1m2 0h1m0 0h1m1 0h1m0 0h1m4 0h1m0 0h1m1 0h1m0 0h1m0 0h1m5 0h1m0 0h1m3 0h1m0 0h1m0 0h2m5 0h2m2 0h1m2 0h1m4 0h1m1 0h1m3 0h1m0 0h1m1 0h2m0 0h3M566 27h1m1 0h1m2 0h1m2 0h1m1 0h2m6 0h1m4 0h3m2 0h1m1 0h1m2 0h1m0 0h1m11 0h1m1 0h2m1 0h1m3 0h1m1 0h1m0 0h1m0 0h1m1 0h1m2 0h1m0 0h2m0 0h1m1 0h1m1 0h1m0 0h1m8 0h1m5 0h1m0 0h1m5 0h1m0 0h2m1 0h4m6 0h1m0 0h1m3 0h1m0 0h2m0 0h1m0 0h2m2 0h1m0 0h1m0 0h1m10 0h1m0 0h1m1 0h1m1 0h4m1 0h2m1 0h1m8 0h4m0 0h2m3 0h3m9 0h1m3 0h3m2 0h2m1 0h1m0 0h1m0 0h1m1 0h1m0 0h1m7 0h3m14 0h1m4 0h1m4 0h1m10 0h1m1 0h1m8 0h1m2 0h1m4 0h1m6 0h1m0 0h2m9 0h1m1 0h1m1 0h1m22 0h1m4 0h1m4 0h1m4 0h1m4 0h2m2 0h1m2 0h1m3 0h2m4 0h1m1 0h1m2 0h1m0 0h1m10 0h1m3 0h1m0 0h2m16 0h2m3 0h2m6 0h2m1 0h1m4 0h1m15 0h2m0 0h1m34 0h5m9 0h2m4 0h1m7 0h1m3 0h1m4 0h1m2 0h1m0 0h1m6 0h1m13 0h1m37 0h1m0 0h2m1 0h2m81 0h2m2 0h1m0 0h2m14 0h1m5 0h1m7 0h1m7 0h3m12 0h1m9 0h1m4 0h1m0 0h1m5 0h1m1 0h1m1 0h1m0 0h1m0 0h1m4 0h1m2 0h2m0 0h1m1 0h1m3 0h1m1 0h2m0 0h2m0 0h1m13 0h1m1 0h1m1 0h1m2 0h2m0 0h1m2 0h1m2 0h1m0 0h1m1 0h1m4 0h1m1 0h1m3 0h1m3 0h1m0 0h1m0 0h1m0 0h3m0 0h1m0 0h1m5 0h1m1 0h1m0 0h1m0 0h2m2 0h2m3 0h2m2 0h1m0 0h1m1 0h1m0 0h1m0 0h2m4 0h1m0 0h1m1 0h2m1 0h1m0 0h1m1 0h2m0 0h1m0 0h1m2 0h1m0 0h4m1 0h1m0 0h1m0 0h1m1 0h1m2 0h1m0 0h1m0 0h1m1 0h1M607 28h1m6 0h3m6 0h1m1 0h1m0 0h2m8 0h1m1 0h1m4 0h2m2 0h2m5 0h1m1 0h1m0 0h1m9 0h1m2 0h2m2 0h1m5 0h1m0 0h2m1 0h2m0 0h1m3 0h1m3 0h1m2 0h1m6 0h1m0 0h1m1 0h1m3 0h2m9 0h1m0 0h1m1 0h3m0 0h3m4 0h1m8 0h1m4 0h1m3 0h1m1 0h1m5 0h1m0 0h1m2 0h2m4 0h1m1 0h1m0 0h2m3 0h1m1 0h1m6 0h2m3 0h1m0 0h1m7 0h1m3 0h2m13 0h3m3 0h1m10 0h1m4 0h1m2 0h1m10 0h1m2 0h3m2 0h1m2 0h1m2 0h1m2 0h1m1 0h1m3 0h2m8 0h1m8 0h1m0 0h1m0 0h1m7 0h1m0 0h1m6 0h1m1 0h2m1 0h5m3 0h2m0 0h1m0 0h2m2 0h2m12 0h1m14 0h1m4 0h2m15 0h1m17 0h1m23 0h4m10 0h2m29 0h1m10 0h1m1 0h1m7 0h2m0 0h2m24 0h1m36 0h2m13 0h1m7 0h1m10 0h1m0 0h1m42 0h2m25 0h3m3 0h1m2 0h1m30 0h1m0 0h2m6 0h1m0 0h2m3 0h1m0 0h1m1 0h1m0 0h1m0 0h2m4 0h1m0 0h2m3 0h1m3 0h1m3 0h1m0 0h1m1 0h1m1 0h1m0 0h2m2 0h1m4 0h1m0 0h1m1 0h1m0 0h1m3 0h4m2 0h1m1 0h1m1 0h1m2 0h1m0 0h1m0 0h1m2 0h1m0 0h2m4 0h1m4 0h3m2 0h1m1 0h1m0 0h1m1 0h1m0 0h1m2 0h1m0 0h1m0 0h1m0 0h2m1 0h1m1 0h1m2 0h1m0 0h1m5 0h1m0 0h1m0 0h2m4 0h1M646 29h1m0 0h1m4 0h1m0 0h1m10 0h1m6 0h3m4 0h1m3 0h1m4 0h1m0 0h1m0 0h1m1 0h3m0 0h1m3 0h2m0 0h1m2 0h1m5 0h1m0 0h1m2 0h2m6 0h1m3 0h1m0 0h3m4 0h1m0 0h1m8 0h1m0 0h1m4 0h1m4 0h2m2 0h1m1 0h1m0 0h1m1 0h2m0 0h2m0 0h2m2 0h2m1 0h3m2 0h1m2 0h2m6 0h1m0 0h1m1 0h2m2 0h1m10 0h1m1 0h1m1 0h1m5 0h1m1 0h1m4 0h1m0 0h2m6 0h1m2 0h1m2 0h1m2 0h1m1 0h1m0 0h1m0 0h3m0 0h1m7 0h1m1 0h1m3 0h1m0 0h1m2 0h1m3 0h1m5 0h1m13 0h1m2 0h1m1 0h2m2 0h4m10 0h3m6 0h1m2 0h1m7 0h1m3 0h1m15 0h1m3 0h1m0 0h1m9 0h1m16 0h1m0 0h1m8 0h1m1 0h1m18 0h1m14 0h1m0 0h1m13 0h2m8 0h1m2 0h1m1 0h1m11 0h1m1 0h1m4 0h2m8 0h1m12 0h1m35 0h1m0 0h2m10 0h1m9 0h1m5 0h1m7 0h1m16 0h2m16 0h1m1 0h1m14 0h1m6 0h2m12 0h2m0 0h1m4 0h2m18 0h1m20 0h1m0 0h1m3 0h1m1 0h1m5 0h1m15 0h1m2 0h3m0 0h1m1 0h1m1 0h1m1 0h1m1 0h1m0 0h1m2 0h1m0 0h1m0 0h1m0 0h1m2 0h1m0 0h1m3 0h2m1 0h1m0 0h1m0 0h1m0 0h1m2 0h1m0 0h1m0 0h2m0 0h1m1 0h1m0 0h1m0 0h1m0 0h1m1 0h2m0 0h1m0 0h2m4 0h1m2 0h1m2 0h1m0 0h1m0 0h1m0 0h1m1 0h1m0 0h1m4 0h1m0 0h1m2 0h2m2 0h3m3 0h1m1 0h1m3 0h1m2 0h1m0 0h2m1 0h1m0 0h3m3 0h1m0 0h1M689 30h1m5 0h1m4 0h1m0 0h1m2 0h1m1 0h1m1 0h1m0 0h2m3 0h1m3 0h1m3 0h2m1 0h3m2 0h1m0 0h4m11 0h1m0 0h1m0 0h1m1 0h1m2 0h1m4 0h1m2 0h2m4 0h1m5 0h1m1 0h1m2 0h1m0 0h2m2 0h1m3 0h3m1 0h1m4 0h1m3 0h1m1 0h1m2 0h1m6 0h3m4 0h4m0 0h1m0 0h2m0 0h1m0 0h1m6 0h1m0 0h1m5 0h1m5 0h1m0 0h1m11 0h1m6 0h1m1 0h1m1 0h1m1 0h2m4 0h1m4 0h2m1 0h1m0 0h1m6 0h1m0 0h1m1 0h2m0 0h1m4 0h1m2 0h1m0 0h1m9 0h1m1 0h2m2 0h1m0 0h1m0 0h1m4 0h1m1 0h1m5 0h1m0 0h2m1 0h1m1 0h1m0 0h1m5 0h1m2 0h1m11 0h2m0 0h1m0 0h4m0 0h1m7 0h1m3 0h1m6 0h1m0 0h1m6 0h1m0 0h1m51 0h1m24 0h1m23 0h2m32 0h1m31 0h1m25 0h1m2 0h1m15 0h1m14 0h1m5 0h2m5 0h1m2 0h1m3 0h1m4 0h2m4 0h2m2 0h1m3 0h2m1 0h2m7 0h1m1 0h1m1 0h1m3 0h2m0 0h1m4 0h1m1 0h1m0 0h2m0 0h1m1 0h2m0 0h1m0 0h1m8 0h1m2 0h1m1 0h1m2 0h1m0 0h1m1 0h1m3 0h1m2 0h2m0 0h1m0 0h1m6 0h1m0 0h1m0 0h2m0 0h1m1 0h1m0 0h1m0 0h2m0 0h1m3 0h2m3 0h2m0 0h1m1 0h1m0 0h1m1 0h1m0 0h1m2 0h2m1 0h1m2 0h2m0 0h1m4 0h2m1 0h1m3 0h2m1 0h2m1 0h1m1 0h1m0 0h1m1 0h1m3 0h1m1 0h2m0 0h3m2 0h1m1 0h4m0 0h5m0 0h1m0 0h1m1 0h1m0 0h1m0 0h1m0 0h1m0 0h1m1 0h1m0 0h1m0 0h1M751 31h3m0 0h1m1 0h1m0 0h1m7 0h1m3 0h2m4 0h1m0 0h2m6 0h1m4 0h1m2 0h1m1 0h1m1 0h1m2 0h2m1 0h1m106 0h1m3 0h2m0 0h1m0 0h2m5 0h1m12 0h1m2 0h1m0 0h1m2 0h1m5 0h1m6 0h1m6 0h1m3 0h2m8 0h1m5 0h1m1 0h3m14 0h1m26 0h1m10 0h1m2 0h1m2 0h3m9 0h1m0 0h1m6 0h1m10 0h1m6 0h2m1 0h1m27 0h2m12 0h1m28 0h1m1 0h2m13 0h1m36 0h4m11 0h1m1 0h3m10 0h1m2 0h1m0 0h1m2 0h1m16 0h1m8 0h2m7 0h1m2 0h1m0 0h1m10 0h1m5 0h1m5 0h1m1 0h2m3 0h1m0 0h1m5 0h2m3 0h1m0 0h1m0 0h1m1 0h1m0 0h1m0 0h1m0 0h1m0 0h2m1 0h1m0 0h1m1 0h1m0 0h1m1 0h2m0 0h1m0 0h1m1 0h1m1 0h1m0 0h2m1 0h3m0 0h1m0 0h2m2 0h1m0 0h1m0 0h1m1 0h1m1 0h1m1 0h1m0 0h1m0 0h1m0 0h2m0 0h1m0 0h1m2 0h1m0 0h1m0 0h1m1 0h1m0 0h1M1005 32h1m0 0h1m14 0h2m3 0h2m4 0h1m40 0h1m10 0h1m4 0h1m29 0h1m7 0h1m8 0h1m16 0h1m2 0h1m7 0h1m3 0h1m10 0h1m8 0h1m1 0h1m3 0h1m13 0h2m4 0h1m6 0h3m12 0h1m10 0h1m7 0h1m3 0h1m0 0h1m0 0h1m3 0h2m13 0h1m3 0h1m2 0h1m13 0h1m3 0h1m0 0h2m2 0h2m3 0h1m0 0h2m1 0h1m0 0h1m1 0h1m5 0h1m0 0h1m2 0h1m1 0h2m0 0h3m1 0h1m0 0h1m0 0h1m3 0h2m1 0h1M1073 33h1m8 0h1m1 0h1m0 0h1m3 0h1m4 0h1m1 0h1m11 0h1m6 0h1m0 0h1m24 0h1m4 0h2m2 0h1m16 0h1m9 0h1m30 0h1m3 0h2m11 0h1m0 0h1m6 0h1m12 0h2m7 0h1m3 0h1m6 0h1m1 0h2m5 0h1m3 0h1m3 0h1m1 0h1m1 0h2m3 0h1m3 0h1m1 0h1m1 0h1m1 0h1m7 0h1m0 0h1m1 0h1m1 0h2m0 0h2m3 0h1m1 0h3m0 0h1m2 0h1m1 0h1M1127 34h1m5 0h2m5 0h2m8 0h2m9 0h1m5 0h1m15 0h1m1 0h1m12 0h2m25 0h1m5 0h2m4 0h1m13 0h1m2 0h3m2 0h2m0 0h1m3 0h1m0 0h1m5 0h1m3 0h1m12 0h1m3 0h1m0 0h1m1 0h2m0 0h2m2 0h1m2 0h1m1 0h1M1177 35h1m0 0h1m30 0h1m3 0h2m4 0h1m2 0h2m4 0h1m4 0h1m7 0h1m0 0h1m2 0h4m3 0h1m0 0h1m1 0h1m8 0h1" stroke="#d3d3d3"/>
</g>
<path d="M1786.9 423.1L1793.1 420.0L1797.5 418.1L1798.8 422.5L1796.2 425.0L1793.8 429.4L1790.0 429.4L1790.0 425.6L1786.9 424.4ZM1778.1 465.0L1783.8 465.0L1783.8 468.1L1778.1 468.1ZM1796.0 461.2L1800.0 463.1L1803.1 460.0L1805.0 461.2L1803.8 472.5L1803.1 483.8L1806.9 495.0L1810.6 496.2L1810.6 501.9L1806.9 503.8L1801.2 503.8L1798.8 492.5L1796.2 485.0L1796.0 471.2ZM1887.5 438.8L1895.6 437.8L1895.6 445.0L1891.9 445.6L1891.2 449.8L1888.8 449.4L1885.6 447.5L1886.0 443.1ZM1903.1 438.1L1905.0 435.0L1908.8 435.0L1913.1 438.8L1916.2 440.0L1916.2 441.0L1910.0 441.2L1910.0 442.5L1903.1 442.5ZM1881.0 458.1L1884.8 458.1L1884.8 462.5L1881.0 462.5ZM1885.0 465.0L1891.9 461.9L1895.6 460.0L1903.8 460.0L1906.9 463.1L1906.9 467.5L1905.0 467.5L1903.8 463.8L1897.5 465.0L1895.6 467.5L1892.5 467.5L1885.0 467.5ZM1888.1 475.0L1892.5 470.6L1896.2 470.0L1905.6 475.0L1908.1 480.0L1908.8 485.0L1915.0 488.1L1915.0 497.5L1913.1 497.5L1912.5 493.8L1909.4 492.5L1906.9 486.2L1902.5 483.8L1896.2 482.5L1890.0 480.0ZM1926.2 413.1L1933.8 410.0L1938.1 410.0L1938.1 414.8L1926.2 415.6ZM1916.9 420.6L1922.5 418.1L1928.1 418.1L1928.1 419.8L1921.2 421.9L1916.9 422.5ZM1928.1 400.0L1933.8 400.0L1933.8 407.5L1932.5 407.5L1932.5 404.4L1928.1 404.4ZM1908.8 420.0L1910.0 420.0L1910.0 425.0L1908.8 425.0ZM1921.9 430.0L1927.5 426.2L1937.5 427.5L1943.8 425.6L1951.2 423.8L1951.2 423.1L1958.8 423.1L1965.0 421.2L1965.0 415.6L1950.0 415.6L1950.0 408.8L1961.9 408.1L1962.5 410.0L1968.8 410.0L1970.0 413.8L1975.0 411.2L1980.0 413.8L1983.8 416.2L1988.8 416.2L1993.8 420.0L1996.2 430.0L2000.0 430.0L2001.2 426.2L2008.8 422.5L2013.8 418.8L2018.8 418.1L2018.8 423.8L2013.8 427.5L2008.8 430.0L2005.0 432.5L1997.5 432.5L1996.2 435.0L1990.0 435.0L1990.0 445.0L1986.2 445.0L1985.0 437.5L1966.2 438.1L1965.0 435.0L1957.5 437.5L1955.0 442.5L1948.8 442.5L1948.8 438.1L1921.9 438.1ZM1926.2 450.6L1934.4 451.2L1935.0 455.0L1936.9 460.0L1936.2 465.0L1933.8 467.5L1934.4 472.5L1941.2 471.2L1942.5 475.0L1947.5 476.2L1948.8 487.5L1943.8 485.0L1941.2 480.0L1938.8 486.2L1933.8 487.5L1932.5 475.0L1930.0 476.2L1928.8 487.5L1927.5 487.5L1927.5 466.2L1926.2 455.0ZM1958.1 468.1L1961.0 468.1L1961.0 475.0L1960.0 481.2L1955.6 482.5L1953.8 478.8L1954.4 473.1ZM1955.0 491.2L1960.0 489.0L1963.1 489.0L1962.5 491.2L1955.6 492.8ZM1979.0 456.0L1981.2 456.9L1983.8 465.0L1985.6 467.5L1986.0 475.6L1983.1 476.0L1981.9 467.5L1980.0 461.2ZM2016.2 436.2L2018.1 436.2L2018.1 440.6L2016.2 440.6ZM1985.0 455.0L1989.0 450.0L1991.0 454.0L1997.0 448.0L1999.0 445.0L2005.0 449.0L2007.0 443.0L2011.0 449.0L2014.0 453.0L2020.0 469.0L2030.0 469.0L2036.0 453.0L2039.0 451.0L2039.0 437.0L2020.0 439.5L2020.0 432.5L2025.0 428.0L2035.0 429.4L2040.0 422.5L2047.5 421.0L2046.0 411.0L2052.0 411.0L2072.5 415.6L2080.0 416.2L2085.0 420.0L2091.0 421.0L2094.4 423.0L2105.0 423.0L2105.0 428.0L2107.5 433.0L2120.0 435.6L2120.0 438.0L2114.0 440.0L2118.0 441.0L2117.5 445.6L2106.0 446.0L2105.0 452.0L2098.8 457.0L2103.8 468.0L2110.0 466.0L2113.0 470.0L2114.4 477.5L2117.5 480.0L2115.0 483.8L2115.0 500.0L2106.0 503.8L2095.0 503.8L2088.8 502.0L2087.5 498.8L2080.0 498.0L2072.5 496.2L2060.0 500.0L1996.0 498.0L1995.0 484.0L1990.6 481.0L1988.8 475.0L1988.0 460.0ZM2111.2 418.1L2126.9 418.1L2126.9 420.0L2115.0 420.6L2114.4 428.1L2120.6 428.8L2120.6 430.6L2111.2 430.6ZM2134.4 433.1L2138.8 433.1L2140.0 435.0L2155.6 435.6L2155.6 440.6L2148.8 440.6L2148.8 442.5L2146.9 442.5L2145.0 438.8L2140.0 437.5L2134.4 435.6ZM2136.2 445.0L2140.6 445.6L2140.6 467.5L2134.4 470.0L2127.5 473.1L2121.2 471.9L2118.1 466.2L2118.1 458.8L2122.5 460.0L2127.5 456.2L2128.8 451.9L2135.0 451.2ZM2108.8 458.1L2111.9 458.8L2108.8 463.8L2106.9 463.1ZM2110.0 466.2L2113.1 470.0L2116.2 472.5L2121.2 477.5L2122.5 483.8L2127.5 486.2L2132.5 488.8L2136.2 491.2L2133.8 493.8L2130.0 496.2L2122.5 497.5L2120.0 500.0L2115.0 497.5L2115.0 483.8L2117.5 480.0L2115.0 477.5ZM2141.9 483.8L2145.0 483.1L2147.5 487.5L2150.0 491.2L2157.5 493.1L2162.5 496.2L2166.2 498.8L2166.9 503.1L2160.0 503.8L2155.0 500.0L2147.5 497.5L2143.8 492.5ZM2151.2 455.0L2153.8 450.6L2156.2 452.5L2165.0 453.8L2168.8 455.0L2170.0 461.2L2172.5 467.5L2177.5 475.0L2181.2 472.5L2182.5 467.5L2185.0 472.5L2185.0 466.2L2182.5 461.2L2185.0 457.5L2190.0 456.2L2191.9 460.0L2190.6 467.5L2191.2 477.5L2195.0 483.8L2197.5 492.5L2202.5 498.8L2203.1 501.9L2200.0 503.8L2195.0 501.9L2190.0 497.5L2185.0 490.0L2178.8 485.0L2177.5 480.0L2172.5 478.8L2165.0 475.0L2162.5 470.0L2156.2 469.4L2160.0 466.2L2158.8 460.0L2155.0 456.2ZM2174.4 445.2L2185.0 445.0L2185.0 447.5L2174.4 448.1ZM2205.0 455.0L2209.4 453.1L2211.2 455.0L2216.2 456.2L2225.6 457.5L2225.6 460.0L2216.2 458.8L2213.8 460.6L2208.8 460.0ZM2191.2 417.5L2195.0 415.0L2196.9 415.6L2193.8 418.8L2195.0 421.2L2205.0 422.5L2208.1 421.2L2208.1 413.1L2210.6 415.0L2210.6 428.1L2202.5 428.1L2201.2 425.0L2192.5 422.5ZM2250.0 471.2L2251.9 470.0L2255.0 475.6L2255.0 478.1L2252.5 476.9L2250.0 475.0ZM2265.0 421.2L2271.9 418.8L2278.1 418.1L2278.1 420.0L2272.5 420.6L2266.2 423.1L2266.2 428.1L2265.0 428.1ZM2261.9 436.9L2265.0 433.8L2273.8 433.1L2273.8 435.6L2266.9 436.2L2265.6 440.0L2261.9 440.0ZM2276.0 433.1L2279.0 433.1L2279.0 438.1L2276.0 438.1ZM2281.0 433.1L2283.8 433.1L2286.2 437.5L2291.9 438.1L2291.9 436.2L2296.9 437.5L2296.9 435.0L2299.4 435.0L2300.0 430.0L2301.9 427.5L2303.8 427.5L2304.4 420.6L2310.0 420.0L2310.0 425.6L2307.5 426.2L2305.6 431.2L2303.1 433.1L2302.8 437.5L2301.0 438.1L2300.6 442.5L2290.0 442.5L2290.0 440.6L2276.9 440.6L2276.9 439.8L2281.0 439.8ZM2205.0 455.0L2208.8 454.4L2209.4 453.1L2211.9 453.8L2211.2 456.2L2214.4 458.8L2214.8 460.6L2210.0 460.6L2206.9 459.4L2206.9 456.2ZM2216.2 456.0L2223.8 456.0L2226.0 458.1L2226.0 460.0L2218.8 459.4L2218.8 457.8L2216.2 457.5ZM2200.0 498.1L2201.9 498.1L2203.1 501.2L2201.2 503.8L2200.0 503.8ZM1531.2 445.0L1533.1 443.1L1541.2 443.8L1544.4 443.1L1547.5 441.2L1548.1 443.1L1556.9 443.1L1557.5 445.0L1568.1 445.0L1568.1 443.1L1572.8 443.1L1572.8 445.0L1576.2 446.2L1581.9 446.2L1581.9 450.6L1588.1 451.2L1588.1 453.1L1595.0 453.1L1598.8 456.2L1599.4 460.0L1602.5 463.1L1603.1 477.5L1605.0 478.1L1605.0 480.0L1596.2 480.0L1595.6 477.5L1589.4 475.0L1589.0 473.1L1591.9 472.5L1591.9 467.5L1589.4 467.5L1589.4 461.2L1586.2 460.0L1586.2 456.2L1584.4 455.0L1584.4 457.5L1580.0 457.5L1580.0 455.0L1576.2 453.8L1575.0 450.6L1570.0 450.0L1566.2 449.4L1566.2 447.5L1556.9 447.5L1552.5 446.2L1551.9 448.1L1547.5 448.1L1546.9 446.2L1544.4 446.2L1544.4 447.5L1538.1 447.5L1537.5 445.6L1531.2 445.6ZM1540.0 451.2L1545.6 450.6L1556.9 450.2L1556.9 451.0L1546.2 451.5L1543.8 452.5L1543.5 454.8L1542.8 454.8L1542.5 452.8L1540.0 452.8ZM1548.1 460.0L1550.0 460.0L1550.6 465.0L1549.4 469.4L1547.2 470.6L1547.2 465.0ZM1573.1 465.0L1573.8 470.0L1575.0 475.0L1581.2 476.9L1581.9 480.0L1585.0 481.2L1585.0 487.5L1581.9 487.5L1581.2 485.6L1577.5 485.0L1574.4 485.6L1573.8 482.5L1571.2 481.9L1570.0 477.5L1570.0 471.9L1571.9 469.4ZM1653.1 451.9L1658.8 450.0L1658.8 452.5L1655.6 453.8L1655.0 457.5L1653.1 457.5ZM1676.2 415.2L1686.9 415.0L1686.9 416.0L1688.8 416.0L1688.8 420.6L1683.1 420.6L1683.1 418.8L1677.5 418.1ZM2670.0 457.8L2672.8 457.8L2672.8 456.0L2676.2 456.0L2676.2 462.9L2670.0 462.9ZM2717.1 451.0L2732.1 451.0L2732.1 455.6L2728.1 454.8L2728.1 452.8L2717.1 452.8ZM2715.0 466.2L2716.2 466.2L2716.2 470.6L2717.5 470.6L2717.5 468.1L2721.9 468.1L2722.1 474.8L2720.6 473.8L2718.8 472.5L2715.0 470.6ZM2737.1 453.1L2738.8 453.1L2739.4 455.0L2741.9 455.0L2742.5 453.1L2745.6 453.1L2746.2 455.0L2748.1 455.6L2748.1 460.6L2738.8 461.0L2737.1 458.8ZM2749.1 456.2L2750.6 455.0L2763.1 455.0L2763.8 458.1L2763.8 462.9L2753.1 462.9L2753.1 461.2L2751.0 461.2L2751.0 462.9L2749.1 462.9ZM2765.0 458.1L2766.0 458.1L2766.0 462.9L2765.0 462.9ZM2769.1 456.0L2771.0 456.0L2771.0 462.9L2769.1 462.9ZM2772.9 456.0L2774.1 456.0L2774.1 462.9L2772.9 462.9ZM2776.9 456.0L2778.1 456.0L2778.1 462.9L2776.9 462.9ZM2780.0 456.0L2785.0 456.0L2785.0 457.8L2790.0 457.8L2790.0 461.0L2780.0 461.0ZM2799.4 461.0L2801.0 461.0L2802.9 463.1L2802.9 469.8L2799.4 469.8L2798.1 470.9L2797.1 470.0L2797.8 465.0ZM2821.2 465.0L2825.0 465.0L2825.0 470.6L2822.1 471.2L2821.9 477.9L2813.1 477.9L2813.1 476.0L2815.0 471.9L2820.6 471.0ZM3627.0 401.0L3628.9 401.0L3628.9 410.0L3627.0 410.0ZM3629.9 401.0L3634.9 400.6L3635.5 399.8L3637.0 399.8L3637.0 405.0L3634.9 405.6L3634.0 410.0L3629.9 410.0ZM3611.8 420.0L3613.0 418.1L3614.9 418.1L3615.5 420.0L3618.2 420.0L3618.2 422.5L3616.1 423.1L3615.5 424.8L3614.9 423.1L3611.8 422.5ZM3539.0 426.9L3540.5 425.0L3543.6 425.0L3544.9 427.5L3546.1 432.5L3544.9 433.1L3543.6 428.8L3541.8 426.5L3539.9 427.5L3539.6 430.0L3539.0 430.0ZM3546.1 428.1L3548.0 426.2L3551.1 426.2L3551.8 430.0L3554.2 429.4L3554.9 428.1L3556.8 428.1L3557.4 430.0L3559.9 430.0L3559.9 426.2L3563.6 426.2L3564.2 430.0L3566.1 430.0L3566.8 433.1L3569.2 433.8L3569.9 435.6L3571.8 436.2L3572.0 451.0L3571.1 451.0L3570.9 445.0L3565.5 445.6L3564.0 449.8L3563.0 449.8L3563.0 448.1L3559.9 447.5L3559.2 445.6L3554.9 445.0L3554.2 443.1L3553.0 442.5L3551.8 439.4L3551.8 431.2L3548.0 430.6L3547.4 432.5L3546.1 432.5ZM3573.0 440.0L3574.0 440.0L3574.9 444.4L3577.0 445.0L3577.0 452.8L3573.0 452.8ZM3574.9 421.0L3576.8 421.0L3576.8 427.5L3574.9 427.5ZM3578.0 422.5L3579.9 420.0L3581.1 420.0L3582.0 421.9L3582.0 428.1L3580.5 430.0L3579.9 433.1L3579.0 432.5L3578.0 428.1ZM3584.0 438.1L3586.1 435.6L3588.0 435.0L3588.6 438.1L3589.2 447.5L3588.2 448.1L3587.4 445.6L3586.1 445.6L3585.8 441.2L3584.0 440.0ZM3607.0 426.0L3608.0 426.0L3608.0 435.6L3606.8 440.0L3606.1 440.0L3606.1 433.8L3604.9 432.5L3605.2 431.0L3606.8 430.6ZM3611.1 431.0L3613.0 431.0L3612.8 438.1L3612.0 438.8L3611.8 447.5L3612.0 455.0L3611.1 456.0L3608.6 455.6L3608.0 453.8L3608.0 446.2L3608.9 445.0L3609.2 440.0L3610.9 439.4ZM3619.9 436.2L3621.1 435.0L3626.8 435.0L3627.0 440.0L3629.9 440.2L3632.0 441.2L3632.4 445.0L3634.2 445.0L3637.0 446.2L3637.0 480.6L3635.5 480.0L3634.0 480.6L3633.6 475.0L3632.0 474.4L3631.8 465.0L3628.6 465.0L3627.4 460.0L3626.8 465.0L3625.5 463.8L3624.9 451.2L3621.8 451.0L3621.8 450.0L3625.2 449.4L3625.5 447.5L3626.8 445.6L3626.8 442.5L3621.1 443.1L3620.5 440.0ZM3634.0 436.9L3635.5 435.0L3637.0 435.0L3637.0 443.1L3634.9 443.1L3634.9 438.8L3634.0 438.1ZM2336.9 902.5L2338.8 901.2L2341.0 901.0L2339.4 903.8L2336.9 904.8ZM2380.6 903.1L2384.4 903.1L2384.4 905.6L2380.6 905.6ZM2386.2 903.5L2393.8 903.5L2393.8 905.0L2386.2 905.0ZM2406.2 900.4L2410.0 900.4L2410.0 901.5L2406.2 901.5ZM2453.5 895.0L2454.5 895.0L2454.5 898.8L2453.5 898.8ZM2469.5 892.5L2470.8 892.5L2470.8 897.5L2469.5 897.5Z" fill="#00ffff" shape-rendering="crispEdges"/>
<path d="M1418.0 848h2.34v6h-2.34zM1420.3 847h2.34v10h-2.34zM1422.7 847h2.34v7h-2.34zM1441.0 847h2.34v7h-2.34zM1443.3 848h2.34v6h-2.34zM1461.0 844h2.34v10h-2.34zM1463.3 847h2.34v7h-2.34zM1465.7 849h2.34v3h-2.34zM1468.0 849h2.34v4h-2.34zM1479.0 848h2.34v5h-2.34zM1481.3 847h2.34v7h-2.34zM1483.7 848h2.34v8h-2.34zM1486.0 848h2.34v4h-2.34zM1488.4 847h2.34v7h-2.34zM1490.7 849h2.34v4h-2.34zM1493.0 847h2.34v6h-2.34zM1495.4 849h2.34v4h-2.34zM1497.7 848h2.34v6h-2.34zM1500.1 848h2.34v5h-2.34zM1502.4 848h2.34v4h-2.34zM1504.7 848h2.34v4h-2.34zM1507.1 847h2.34v6h-2.34zM1513.0 848h2.34v6h-2.34zM1515.3 847h2.34v5h-2.34zM1517.7 849h2.34v6h-2.34zM1520.0 849h2.34v5h-2.34zM1522.4 849h2.34v8h-2.34zM1524.7 848h2.34v4h-2.34zM1527.0 847h2.34v6h-2.34zM1529.4 847h2.34v7h-2.34zM1531.7 847h2.34v5h-2.34zM1534.1 848h2.34v5h-2.34zM1536.4 848h2.34v5h-2.34zM1541.0 849h2.34v4h-2.34zM1543.3 849h2.34v3h-2.34zM1545.7 849h2.34v5h-2.34zM1550.6 850h2.34v3h-2.34zM1552.9 849h2.34v5h-2.34zM1555.3 849h2.34v6h-2.34zM1557.6 849h2.34v4h-2.34zM1560.0 850h2.34v6h-2.34zM1562.3 849h2.34v5h-2.34zM1564.6 850h2.34v4h-2.34zM1567.0 849h2.34v5h-2.34zM1569.3 850h2.34v3h-2.34zM1571.7 845h2.34v10h-2.34zM1578.7 849h2.34v7h-2.34zM1581.0 849h2.34v5h-2.34zM1585.7 845h2.34v10h-2.34zM1588.0 847h2.34v6h-2.34zM1590.4 850h2.34v4h-2.34zM1592.7 850h2.34v4h-2.34zM1595.1 850h2.34v4h-2.34zM1597.4 849h2.34v5h-2.34zM1599.7 850h2.34v3h-2.34zM1602.1 850h2.34v8h-2.34zM1604.4 846h2.34v8h-2.34zM1606.8 850h2.34v4h-2.34zM1609.1 849h2.34v5h-2.34zM1611.4 850h2.34v4h-2.34zM1613.8 849h2.34v6h-2.34zM1616.1 850h2.34v3h-2.34zM1618.5 847h2.34v7h-2.34zM1620.8 849h2.34v4h-2.34zM1623.1 850h2.34v4h-2.34zM1625.5 849h2.34v6h-2.34zM1627.8 850h2.34v3h-2.34zM1630.2 849h2.34v5h-2.34zM1637.2 846h2.34v9h-2.34zM1639.5 849h2.34v5h-2.34zM1641.9 849h2.34v4h-2.34zM1644.2 849h2.34v4h-2.34zM1646.5 848h2.34v6h-2.34zM1648.9 848h2.34v8h-2.34zM1651.2 849h2.34v5h-2.34zM1653.6 848h2.34v6h-2.34zM1655.9 849h2.34v4h-2.34zM1658.2 850h2.34v3h-2.34zM1660.6 849h2.34v6h-2.34zM1662.9 850h2.34v3h-2.34zM1665.3 850h2.34v5h-2.34zM1667.6 849h2.34v5h-2.34zM1669.9 849h2.34v6h-2.34zM1672.3 843h2.34v10h-2.34zM1674.6 846h2.34v7h-2.34zM1677.0 849h2.34v5h-2.34zM1679.3 849h2.34v5h-2.34zM1681.6 850h2.34v4h-2.34zM1684.0 846h2.34v10h-2.34zM1686.3 849h2.34v7h-2.34zM1688.7 849h2.34v5h-2.34zM1699.0 845h2.34v8h-2.34zM1701.3 850h2.34v4h-2.34zM1706.0 850h2.34v4h-2.34zM1708.4 849h2.34v5h-2.34zM1710.7 848h2.34v7h-2.34zM1713.0 850h2.34v7h-2.34zM1715.4 848h2.34v6h-2.34zM1722.4 850h2.34v3h-2.34zM1724.7 849h2.34v4h-2.34zM1727.1 849h2.34v8h-2.34zM1729.4 850h2.34v7h-2.34zM1731.8 850h2.34v5h-2.34zM1736.4 849h2.34v6h-2.34zM1738.8 849h2.34v5h-2.34zM1743.5 850h2.34v4h-2.34zM1745.8 849h2.34v4h-2.34zM1748.1 849h2.34v4h-2.34zM1755.0 847h2.34v7h-2.34zM1757.3 848h2.34v4h-2.34zM1759.7 848h2.34v5h-2.34zM1762.0 844h2.34v9h-2.34zM1764.4 842h2.34v12h-2.34zM1766.7 848h2.34v5h-2.34zM1769.0 848h2.34v5h-2.34zM1771.4 849h2.34v4h-2.34zM1773.7 848h2.34v6h-2.34zM1776.1 848h2.34v4h-2.34zM1778.4 849h2.34v8h-2.34zM1780.7 847h2.34v7h-2.34zM1783.1 849h2.34v3h-2.34zM1793.0 848h2.34v6h-2.34zM1795.3 847h2.34v6h-2.34zM1797.7 844h2.34v8h-2.34zM1800.0 847h2.34v6h-2.34zM1802.4 847h2.34v10h-2.34zM1804.7 848h2.34v4h-2.34zM1807.0 847h2.34v7h-2.34zM1809.4 847h2.34v6h-2.34zM1811.7 849h2.34v4h-2.34zM1814.1 847h2.34v5h-2.34zM1816.4 848h2.34v5h-2.34zM1861.0 842h2.34v10h-2.34zM1863.3 846h2.34v7h-2.34zM1790.0 840h2.40v9h-2.40zM1861.0 844h4.50v10h-4.50z" fill="#00ffff" shape-rendering="crispEdges"/>
</g>
<g clip-path="url(#axclip)" shape-rendering="crispEdges">
<path d="M1996.75 505.60L2030.75 505.60L2013.75 475.60Z" fill="#ff0000"/>
<path d="M2020.30 510.00L2054.30 510.00L2037.30 480.00Z" fill="#ff0000"/>
<path d="M2043.40 510.00L2077.40 510.00L2060.40 480.00Z" fill="#ff0000"/>
<path d="M1996.75 450.25L2030.75 450.25L2013.75 480.25Z" fill="#ff0000"/>
<path d="M2020.30 451.25L2054.30 451.25L2037.30 481.25Z" fill="#ff0000"/>
<path d="M2043.40 405.00L2077.40 405.00L2060.40 435.00Z" fill="#ff0000"/>
<circle cx="2013.4" cy="820.9" r="16.9" fill="#0000ff"/>
<circle cx="2037.6" cy="817.6" r="16.9" fill="#0000ff"/>
<circle cx="2060.8" cy="885.0" r="16.9" fill="#0000ff"/>
<circle cx="2364.9" cy="793" r="16.9" fill="#0000ff"/>
<circle cx="2388.4" cy="826.5" r="16.9" fill="#0000ff"/>
<circle cx="2177.8" cy="888.05" r="16.9" fill="#808080"/>
<circle cx="2318.2" cy="863.3" r="16.9" fill="#808080"/>
<circle cx="3512.7" cy="820.8" r="16.9" fill="#808080"/>
<circle cx="3605.9" cy="793.1" r="16.9" fill="#808080"/>
<circle cx="2341.8" cy="420.2" r="16.9" fill="#808080"/>
<circle cx="1826.5" cy="926.6" r="16.9" fill="#32cd32"/>
<circle cx="3628.2" cy="769.8" r="16.9" fill="#0000ff"/>
</g>
<g fill="none" stroke="#000" stroke-width="4" stroke-linejoin="miter" shape-rendering="crispEdges">
<path d="M266.0 236.3L388.0 241.0L534.0 246.0L679.0 243.0L825.0 247.5L970.5 252.0L1092.0 252.0L1189.0 246.5L1250.0 238.7L1267.0 236.8L1273.3 223.2L1322.8 220.8L1376.0 218.4L1410.0 219.3L1558.8 227.9"/>
<path d="M1664.5 232.9L1808.0 228.0L1929.0 228.0L2075.0 233.0L2220.5 233.0L2342.0 229.0L2500.0 235.3L2645.6 239.7L2694.0 239.7L2912.5 236.3L3131.0 230.0L3218.0 230.0L3325.0 234.9L3470.5 239.7L3637.0 244.0"/>
<path d="M266.0 507.0L339.7 508.5L728.0 509.0L825.0 511.0L1092.0 511.0L1250.0 509.5L1512.0 510.5L1561.9 511.5"/>
<path d="M1667.0 509.5L1725.5 510.5L1953.6 511.5L2500.0 511.5L2631.0 512.0L2951.0 513.0L3199.0 514.0L3393.0 515.0L3485.0 516.3L3637.0 516.3"/>
<path d="M266.0 635.0L422.0 636.4L572.6 637.4L737.6 638.3L854.0 639.8L1250.0 639.8L1492.6 640.8L1561.9 641.2"/>
<path d="M1667.0 641.2L1745.0 642.7L2012.0 644.2L2118.6 645.1L2366.0 646.6L2500.0 647.0L2810.6 647.0L2878.5 648.5L3063.0 650.0L3218.0 651.0L3305.5 652.4L3393.0 653.9L3485.0 655.3L3592.0 656.3L3637.0 656.8"/>
<path d="M266.0 808.7L388.0 810.0L504.7 811.0L650.0 812.0L868.6 813.0L1250.0 813.0L1502.0 812.7L1561.9 812.7"/>
<path d="M1667.0 812.7L1929.0 812.3L2036.0 810.6L2152.6 811.0L2244.8 812.5L2366.0 813.5L2500.0 815.0L2587.0 816.0L2679.5 817.4L2990.0 818.9L3271.5 818.9L3334.6 816.4L3407.4 815.5L3514.0 814.0L3592.0 813.5L3637.0 812.0"/>
<path d="M266.0 879.0L485.0 879.2L825.0 879.0L854.0 880.3L985.0 881.5L1058.0 883.0L1155.0 881.5L1250.0 880.0L1458.7 879.5L1560.5 882.0L1717.0 884.0"/>
<path d="M1822.6 885.3L1861.0 885.8L1948.8 887.3L2075.0 889.2L2100.0 888.8L2150.0 891.9L2175.0 895.6L2202.5 898.8L2230.0 903.8L2262.5 906.2L2306.0 908.5L2332.5 909.4L2347.5 910.0L2362.5 908.5L2406.0 910.6L2456.0 913.0L2505.0 913.8L2526.0 910.8L2512.5 910.0L2406.0 902.5L2362.5 896.9L2335.0 898.0L2375.0 890.0L2410.0 888.8L2457.5 887.5L2717.5 887.5L2839.7 890.2L2985.0 892.6L3022.0 893.0L3100.0 893.7L3170.0 893.0L3230.0 893.0L3262.0 894.4L3350.0 898.0L3400.0 901.4L3422.0 903.0L3494.0 908.8L3510.0 908.8L3556.0 907.5L3637.0 906.9"/>
<path d="M2230.0 903.8L2201.0 907.5L2220.0 913.0L2207.0 915.0L2311.0 915.0L2332.5 913.8L2347.5 910.6"/>
</g>
<g transform="rotate(2.5 1611.8 232.3)"><text transform="translate(1562.75,252.30) scale(1.0000,1)" font-size="58.33">210</text></g>
<text x="1566.05" y="531.60" font-size="58.33">230</text>
<g transform="rotate(0.4 1615.0 642.0)"><text transform="translate(1565.95,662.00) scale(1.0000,1)" font-size="58.33">250</text></g>
<text x="1566.15" y="833.10" font-size="58.33">273</text>
<g transform="rotate(1.0 1769.0 885.0)"><text transform="translate(1720.22,905.00) scale(1.0000,1)" font-size="58.33">279</text></g>
<g fill="#000" shape-rendering="crispEdges">
<rect x="263" y="109" width="6" height="851"/>
<rect x="263" y="954" width="3377" height="6"/>
<rect x="266" y="109.0" width="81" height="6"/>
<rect x="266" y="214.6" width="81" height="6"/>
<rect x="266" y="320.2" width="81" height="6"/>
<rect x="266" y="425.8" width="81" height="6"/>
<rect x="266" y="531.4" width="81" height="6"/>
<rect x="266" y="637.0" width="81" height="6"/>
<rect x="266" y="742.6" width="81" height="6"/>
<rect x="266" y="848.2" width="81" height="6"/>
<rect x="266" y="953.8" width="81" height="6"/>
<rect x="263.0" y="894" width="6" height="63"/>
<rect x="333.2" y="924" width="6" height="33"/>
<rect x="403.5" y="924" width="6" height="33"/>
<rect x="473.7" y="924" width="6" height="33"/>
<rect x="543.9" y="894" width="6" height="63"/>
<rect x="614.1" y="924" width="6" height="33"/>
<rect x="684.4" y="924" width="6" height="33"/>
<rect x="754.6" y="924" width="6" height="33"/>
<rect x="824.8" y="894" width="6" height="63"/>
<rect x="895.1" y="924" width="6" height="33"/>
<rect x="965.3" y="924" width="6" height="33"/>
<rect x="1035.5" y="924" width="6" height="33"/>
<rect x="1105.8" y="894" width="6" height="63"/>
<rect x="1176.0" y="924" width="6" height="33"/>
<rect x="1246.2" y="924" width="6" height="33"/>
<rect x="1316.4" y="924" width="6" height="33"/>
<rect x="1386.7" y="894" width="6" height="63"/>
<rect x="1456.9" y="924" width="6" height="33"/>
<rect x="1527.1" y="924" width="6" height="33"/>
<rect x="1597.4" y="924" width="6" height="33"/>
<rect x="1667.6" y="894" width="6" height="63"/>
<rect x="1737.8" y="924" width="6" height="33"/>
<rect x="1808.0" y="924" width="6" height="33"/>
<rect x="1878.3" y="924" width="6" height="33"/>
<rect x="1948.5" y="894" width="6" height="63"/>
<rect x="2018.7" y="924" width="6" height="33"/>
<rect x="2089.0" y="924" width="6" height="33"/>
<rect x="2159.2" y="924" width="6" height="33"/>
<rect x="2229.4" y="894" width="6" height="63"/>
<rect x="2299.6" y="924" width="6" height="33"/>
<rect x="2369.9" y="924" width="6" height="33"/>
<rect x="2440.1" y="924" width="6" height="33"/>
<rect x="2510.3" y="894" width="6" height="63"/>
<rect x="2580.6" y="924" width="6" height="33"/>
<rect x="2650.8" y="924" width="6" height="33"/>
<rect x="2721.0" y="924" width="6" height="33"/>
<rect x="2791.2" y="894" width="6" height="63"/>
<rect x="2861.5" y="924" width="6" height="33"/>
<rect x="2931.7" y="924" width="6" height="33"/>
<rect x="3001.9" y="924" width="6" height="33"/>
<rect x="3072.2" y="894" width="6" height="63"/>
<rect x="3142.4" y="924" width="6" height="33"/>
<rect x="3212.6" y="924" width="6" height="33"/>
<rect x="3282.9" y="924" width="6" height="33"/>
<rect x="3353.1" y="894" width="6" height="63"/>
<rect x="3423.3" y="924" width="6" height="33"/>
<rect x="3493.5" y="924" width="6" height="33"/>
<rect x="3563.8" y="924" width="6" height="33"/>
<rect x="3634.0" y="894" width="6" height="63"/>
</g>
<text transform="translate(85.61,136.60) scale(1.0525,1.0000)" font-size="70.64" >16.7</text>
<text transform="translate(85.61,242.20) scale(1.0525,1.0000)" font-size="70.64" >14.7</text>
<text transform="translate(85.61,347.80) scale(1.0525,1.0000)" font-size="70.64" >12.7</text>
<text transform="translate(85.59,453.40) scale(1.0574,1.0000)" font-size="70.64" >10.8</text>
<text transform="translate(85.19,559.00) scale(1.0554,1.0000)" font-size="70.64" >8.83</text>
<text transform="translate(84.80,664.60) scale(1.0531,1.0000)" font-size="70.64" >6.85</text>
<text transform="translate(85.35,770.20) scale(1.0545,1.0000)" font-size="70.64" >4.87</text>
<text transform="translate(84.93,875.80) scale(1.0636,1.0000)" font-size="70.64" >2.89</text>
<text transform="translate(85.41,981.40) scale(1.0503,1.0000)" font-size="70.64" >0.91</text>
<text transform="translate(244.06,1036.40) scale(0.9929,1.0000)" font-size="79.47" >0</text>
<text transform="translate(524.68,1036.40) scale(0.9592,1.0000)" font-size="79.47" >2</text>
<text transform="translate(805.76,1036.40) scale(0.9952,1.0000)" font-size="79.47" >4</text>
<text transform="translate(1086.05,1036.40) scale(1.0305,1.0000)" font-size="79.47" >6</text>
<text transform="translate(1367.48,1036.40) scale(1.0040,1.0000)" font-size="79.47" >8</text>
<text transform="translate(1624.93,1036.40) scale(1.0384,1.0000)" font-size="79.47" >10</text>
<text transform="translate(1905.96,1036.40) scale(1.0178,1.0000)" font-size="79.47" >12</text>
<text transform="translate(2186.76,1036.40) scale(1.0374,1.0000)" font-size="79.47" >14</text>
<text transform="translate(2467.62,1036.40) scale(1.0484,1.0000)" font-size="79.47" >16</text>
<text transform="translate(2748.58,1036.40) scale(1.0412,1.0000)" font-size="79.47" >18</text>
<text transform="translate(3028.72,1036.40) scale(1.0476,1.0000)" font-size="79.47" >20</text>
<text transform="translate(3309.72,1036.40) scale(1.0276,1.0000)" font-size="79.47" >22</text>
<text transform="translate(3590.56,1036.40) scale(1.0466,1.0000)" font-size="79.47" >24</text>
<text transform="translate(1739.66,1116.30) scale(1.0830,1.0000)" font-size="79.47" >Time </text>
<text transform="translate(1954.67,1111.20) scale(0.8131,0.9007)" font-size="79.47" >(</text>
<text transform="translate(1982.99,1116.30) scale(0.9096,1.0000)" font-size="79.47" >UTC</text>
<text transform="translate(2138.42,1111.20) scale(0.8131,0.9007)" font-size="79.47" >)</text>
<text transform="translate(36.30,833.76) rotate(-90) scale(1.0734,1.0000)" font-size="70.64" >Height </text>
<text transform="translate(36.30,592.12) rotate(-90) scale(0.9577,1.0000)" font-size="70.64" >AMSL </text>
<text transform="translate(31.76,386.57) rotate(-90) scale(0.8012,0.9007)" font-size="70.64" >(</text>
<text transform="translate(36.30,361.86) rotate(-90) scale(1.0852,1.0000)" font-size="70.64" >km</text>
<text transform="translate(31.76,254.24) rotate(-90) scale(0.8012,0.9007)" font-size="70.64" >)</text>
<text transform="translate(1490.58,77.00) scale(1.0081,1)" font-size="100.00">Potenza: 2025/11/06</text>
<rect x="266" y="1144" width="3371" height="56" fill="url(#cb)"/>
<g fill="#000" shape-rendering="crispEdges">
<rect x="263" y="1197" width="3377" height="6"/>
<rect x="263.0" y="1183" width="6" height="17"/>
<rect x="375.4" y="1190" width="6" height="10"/>
<rect x="487.7" y="1190" width="6" height="10"/>
<rect x="600.1" y="1190" width="6" height="10"/>
<rect x="712.5" y="1190" width="6" height="10"/>
<rect x="824.8" y="1190" width="6" height="10"/>
<rect x="937.2" y="1190" width="6" height="10"/>
<rect x="1049.6" y="1190" width="6" height="10"/>
<rect x="1161.9" y="1190" width="6" height="10"/>
<rect x="1274.3" y="1190" width="6" height="10"/>
<rect x="1386.7" y="1183" width="6" height="17"/>
<rect x="1499.0" y="1190" width="6" height="10"/>
<rect x="1611.4" y="1190" width="6" height="10"/>
<rect x="1723.8" y="1190" width="6" height="10"/>
<rect x="1836.1" y="1190" width="6" height="10"/>
<rect x="1948.5" y="1190" width="6" height="10"/>
<rect x="2060.9" y="1190" width="6" height="10"/>
<rect x="2173.2" y="1190" width="6" height="10"/>
<rect x="2285.6" y="1190" width="6" height="10"/>
<rect x="2398.0" y="1190" width="6" height="10"/>
<rect x="2510.3" y="1183" width="6" height="17"/>
<rect x="2622.7" y="1190" width="6" height="10"/>
<rect x="2735.1" y="1190" width="6" height="10"/>
<rect x="2847.4" y="1190" width="6" height="10"/>
<rect x="2959.8" y="1190" width="6" height="10"/>
<rect x="3072.2" y="1190" width="6" height="10"/>
<rect x="3184.5" y="1190" width="6" height="10"/>
<rect x="3296.9" y="1190" width="6" height="10"/>
<rect x="3409.3" y="1190" width="6" height="10"/>
<rect x="3521.6" y="1190" width="6" height="10"/>
<rect x="3634.0" y="1183" width="6" height="17"/>
</g>
<text transform="translate(179.65,1262.80) scale(1.0514,1.0000)" font-size="61.81" >Clear</text>
<text transform="translate(1303.26,1261.20) scale(1.0873,1.0000)" font-size="61.81" >Water</text>
<text transform="translate(2470.67,1261.20) scale(1.0376,1.0000)" font-size="61.81" >Ice</text>
<text transform="translate(3553.70,1262.60) scale(1.0892,1.0000)" font-size="61.81" >Other</text>
<g fill="#fff" stroke="#000" stroke-width="6" shape-rendering="crispEdges">
<rect x="666" y="1313" width="234" height="93"/>
<rect x="321" y="1500" width="579" height="149"/>
<rect x="1027" y="1313" width="585" height="142"/>
<rect x="2328" y="1313" width="559.5" height="402"/>
</g>
<circle cx="358.1" cy="1574.7" r="16.9" fill="#808080" shape-rendering="crispEdges"/>
<text transform="translate(396.13,1597.00) scale(0.9359,1.0000)" font-size="61.81" >FCI-CTTH </text>
<text transform="translate(682.33,1597.00) scale(1.0828,1.0000)" font-size="61.81" >Other</text>
<circle cx="1064.1" cy="1383.8" r="16.9" fill="#0000ff" shape-rendering="crispEdges"/>
<text transform="translate(1102.35,1405.80) scale(0.9320,1.0000)" font-size="61.81" >FCI-CTTH </text>
<text transform="translate(1388.53,1405.80) scale(0.9251,1.0000)" font-size="61.81" >SL </text>
<text transform="translate(1475.16,1405.80) scale(1.0324,1.0000)" font-size="61.81" >Ice</text>
<path d="M2348.00 1393.80L2382.00 1393.80L2365.00 1363.80Z" fill="#ff0000" shape-rendering="crispEdges"/>
<path d="M2348.00 1460.00L2382.00 1460.00L2365.00 1490.00Z" fill="#ff0000" shape-rendering="crispEdges"/>
<path fill-rule="evenodd" d="M2348.00 1567.00L2382.00 1567.00L2365.00 1537.00ZM2357.80 1561.40L2365.00 1548.31L2372.20 1561.40Z" fill="#ff0000" shape-rendering="crispEdges"/>
<path fill-rule="evenodd" d="M2348.00 1633.00L2382.00 1633.00L2365.00 1663.00ZM2357.80 1638.60L2365.00 1651.69L2372.20 1638.60Z" fill="#ff0000" shape-rendering="crispEdges"/>
<text transform="translate(2403.26,1405.80) scale(0.9242,1.0000)" font-size="61.81" >ACTRIS </text>
<text transform="translate(2632.27,1405.80) scale(0.9481,1.0000)" font-size="61.81" >CBH</text>
<text transform="translate(2403.26,1492.00) scale(0.9225,1.0000)" font-size="61.81" >ACTRIS </text>
<text transform="translate(2631.89,1492.00) scale(0.9379,1.0000)" font-size="61.81" >CTH</text>
<text transform="translate(2403.26,1578.30) scale(0.9233,1.0000)" font-size="61.81" >ACTRIS </text>
<text transform="translate(2632.07,1578.30) scale(0.9473,1.0000)" font-size="61.81" >CBH </text>
<text transform="translate(2775.84,1578.30) scale(0.9726,1.0000)" font-size="61.81" >BL</text>
<text transform="translate(2403.26,1665.00) scale(0.9220,1.0000)" font-size="61.81" >ACTRIS </text>
<text transform="translate(2631.77,1665.00) scale(0.9374,1.0000)" font-size="61.81" >CTH </text>
<text transform="translate(2770.93,1665.00) scale(0.9712,1.0000)" font-size="61.81" >BL</text>
</svg></body></html>
